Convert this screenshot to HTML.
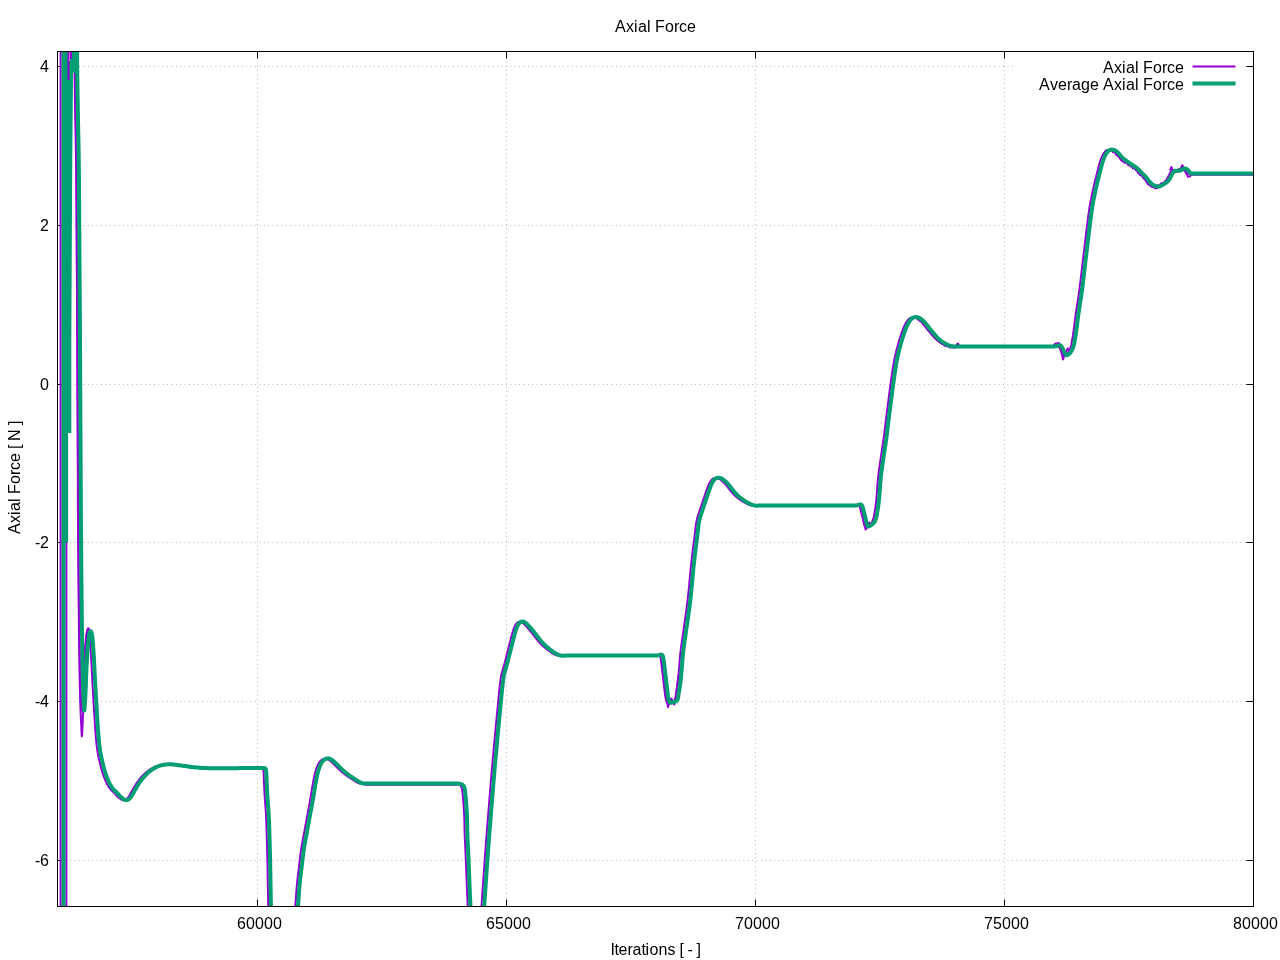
<!DOCTYPE html>
<html lang="en">
<head>
<meta charset="utf-8">
<title>Axial Force</title>
<style>
html,body{margin:0;padding:0;background:#fff;}
body{width:1280px;height:960px;overflow:hidden;font-family:"Liberation Sans",sans-serif;}
svg{display:block;}
</style>
</head>
<body>
<svg width="1280" height="960" viewBox="0 0 1280 960">
<rect width="1280" height="960" fill="#fff"/>
<g stroke="#b4b4b4" stroke-width="1" stroke-dasharray="1 3.4" stroke-dashoffset="0.5" fill="none">
<path d="M257.5,906.5V51.5"/>
<path d="M506.5,906.5V51.5"/>
<path d="M755.5,906.5V51.5"/>
<path d="M1004.5,906.5V51.5"/>
<path d="M57.5,66.5H1253.5"/>
<path d="M57.5,225.5H1253.5"/>
<path d="M57.5,384.5H1253.5"/>
<path d="M57.5,542.5H1253.5"/>
<path d="M57.5,701.5H1253.5"/>
<path d="M57.5,860.5H1253.5"/>
</g>
<rect x="1013" y="58" width="230" height="34" fill="#fff"/>
<g stroke="#000" stroke-width="1" fill="none">
<path d="M257.5,906.5v-7.0M257.5,51.5v7.0"/>
<path d="M506.5,906.5v-7.0M506.5,51.5v7.0"/>
<path d="M755.5,906.5v-7.0M755.5,51.5v7.0"/>
<path d="M1004.5,906.5v-7.0M1004.5,51.5v7.0"/>
<path d="M1253.5,906.5v-7.0M1253.5,51.5v7.0"/>
<path d="M57.5,66.5h7.0M1253.5,66.5h-7.0"/>
<path d="M57.5,225.5h7.0M1253.5,225.5h-7.0"/>
<path d="M57.5,384.5h7.0M1253.5,384.5h-7.0"/>
<path d="M57.5,542.5h7.0M1253.5,542.5h-7.0"/>
<path d="M57.5,701.5h7.0M1253.5,701.5h-7.0"/>
<path d="M57.5,860.5h7.0M1253.5,860.5h-7.0"/>
</g>
<defs><clipPath id="c"><rect x="57.5" y="51.5" width="1196.0" height="855.0"/></clipPath></defs>
<g clip-path="url(#c)" fill="none" stroke-linejoin="round">
<g stroke="#9400d3" stroke-width="2">
<path d="M60.6,910V48"/>
<path d="M66.4,910V541"/>
<path d="M74.30,44.25 L74.33,47.32 L74.36,50.36 L74.38,53.37 L74.41,56.37 L74.43,59.39 L74.46,62.44 L74.49,65.53 L74.52,68.68 L74.56,71.92 L74.60,75.25 L74.65,79.42 L74.71,83.76 L74.78,88.22 L74.85,92.78 L74.92,97.39 L75.00,102.04 L75.07,106.68 L75.15,111.29 L75.22,115.82 L75.30,120.25 L75.37,124.27 L75.45,128.14 L75.53,131.92 L75.61,135.65 L75.69,139.40 L75.76,143.21 L75.84,147.15 L75.91,151.26 L75.98,155.61 L76.05,160.25 L76.14,167.79 L76.22,175.95 L76.29,184.60 L76.35,193.66 L76.41,203.00 L76.47,212.52 L76.53,222.12 L76.58,231.67 L76.64,241.09 L76.70,250.25 L76.76,259.19 L76.82,268.04 L76.89,276.84 L76.95,285.63 L77.01,294.44 L77.07,303.32 L77.13,312.30 L77.19,321.42 L77.24,330.73 L77.30,340.25 L77.36,351.55 L77.42,363.15 L77.48,374.98 L77.54,387.01 L77.59,399.17 L77.65,411.42 L77.71,423.71 L77.77,435.97 L77.83,448.17 L77.90,460.25 L77.97,472.39 L78.04,484.76 L78.11,497.26 L78.19,509.79 L78.26,522.26 L78.34,534.56 L78.42,546.61 L78.51,558.31 L78.60,569.55 L78.70,580.25 L78.78,588.08 L78.86,595.70 L78.94,603.11 L79.02,610.34 L79.11,617.39 L79.20,624.26 L79.29,630.97 L79.39,637.54 L79.49,643.96 L79.60,650.25 L79.69,655.26 L79.77,660.26 L79.85,665.22 L79.94,670.09 L80.03,674.83 L80.12,679.41 L80.23,683.79 L80.34,687.91 L80.46,691.74 L80.60,695.25 L80.69,697.27 L80.78,699.36 L80.87,701.47 L80.97,703.52 L81.07,705.44 L81.18,707.17 L81.28,708.63 L81.39,709.76 L81.49,710.49 L81.60,710.75 L81.71,710.48 L81.82,709.73 L81.93,708.56 L82.04,707.06 L82.15,705.30 L82.26,703.36 L82.38,701.30 L82.49,699.22 L82.59,697.17 L82.70,695.25 L82.85,692.41 L82.99,689.31 L83.12,686.00 L83.25,682.54 L83.38,679.01 L83.51,675.45 L83.64,671.93 L83.79,668.52 L83.94,665.27 L84.10,662.25 L84.23,660.01 L84.37,657.81 L84.50,655.65 L84.64,653.53 L84.79,651.47 L84.94,649.48 L85.09,647.55 L85.25,645.70 L85.42,643.93 L85.60,642.25 L85.72,641.12 L85.83,639.98 L85.94,638.85 L86.06,637.76 L86.17,636.71 L86.30,635.73 L86.45,634.82 L86.61,634.02 L86.79,633.32 L87.00,632.75 L87.10,632.54 L87.20,632.34 L87.32,632.15 L87.43,631.97 L87.55,631.81 L87.66,631.68 L87.78,631.57 L87.89,631.49 L88.00,631.45 L88.10,631.45 L88.25,631.53 L88.38,631.72 L88.51,631.98 L88.64,632.33 L88.76,632.73 L88.87,633.19 L88.98,633.68 L89.09,634.19 L89.20,634.72 L89.30,635.25 L89.51,636.43 L89.69,637.79 L89.86,639.31 L90.01,640.96 L90.15,642.71 L90.28,644.55 L90.41,646.45 L90.54,648.38 L90.67,650.32 L90.80,652.25 L90.97,654.76 L91.13,657.37 L91.28,660.07 L91.42,662.85 L91.56,665.68 L91.70,668.57 L91.85,671.48 L91.99,674.41 L92.14,677.33 L92.30,680.25 L92.48,683.44 L92.67,686.74 L92.86,690.10 L93.06,693.50 L93.25,696.90 L93.45,700.27 L93.65,703.58 L93.84,706.78 L94.02,709.85 L94.20,712.75 L94.33,714.83 L94.44,716.83 L94.55,718.75 L94.66,720.62 L94.77,722.45 L94.88,724.25 L95.00,726.04 L95.12,727.83 L95.25,729.65 L95.40,731.50 L95.56,733.39 L95.72,735.31 L95.88,737.25 L96.05,739.19 L96.23,741.12 L96.42,743.03 L96.62,744.91 L96.83,746.75 L97.06,748.53 L97.30,750.25 L97.51,751.61 L97.73,752.93 L97.96,754.22 L98.20,755.48 L98.45,756.71 L98.70,757.93 L98.97,759.14 L99.24,760.34 L99.52,761.54 L99.80,762.75 L100.08,763.91 L100.36,765.06 L100.65,766.22 L100.94,767.36 L101.24,768.50 L101.55,769.62 L101.87,770.74 L102.20,771.84 L102.55,772.93 L102.90,774.00 L103.24,774.99 L103.59,775.98 L103.95,776.96 L104.32,777.94 L104.70,778.90 L105.09,779.84 L105.48,780.76 L105.88,781.65 L106.29,782.52 L106.70,783.35 L107.05,784.02 L107.40,784.67 L107.75,785.30 L108.11,785.92 L108.48,786.52 L108.85,787.10 L109.22,787.66 L109.61,788.21 L110.00,788.74 L110.40,789.25 L110.76,789.67 L111.12,790.07 L111.50,790.44 L111.87,790.81 L112.26,791.16 L112.64,791.50 L113.03,791.85 L113.42,792.20 L113.81,792.57 L114.20,792.95 L114.62,793.39 L115.04,793.85 L115.46,794.33 L115.88,794.81 L116.31,795.29 L116.73,795.77 L117.17,796.24 L117.62,796.68 L118.08,797.11 L118.55,797.50 L119.02,797.87 L119.51,798.25 L120.01,798.64 L120.52,799.01 L121.04,799.36 L121.56,799.68 L122.07,799.95 L122.58,800.16 L123.07,800.30 L123.55,800.35 L123.95,800.33 L124.34,800.26 L124.72,800.14 L125.10,799.98 L125.48,799.78 L125.85,799.54 L126.22,799.28 L126.58,798.99 L126.94,798.68 L127.30,798.35 L127.83,797.79 L128.35,797.12 L128.85,796.37 L129.35,795.55 L129.85,794.68 L130.34,793.78 L130.82,792.87 L131.31,791.97 L131.80,791.09 L132.30,790.25 L132.79,789.44 L133.28,788.62 L133.76,787.80 L134.24,786.98 L134.73,786.16 L135.22,785.34 L135.71,784.53 L136.23,783.73 L136.75,782.93 L137.30,782.15 L137.87,781.36 L138.46,780.57 L139.07,779.79 L139.68,779.00 L140.31,778.23 L140.95,777.47 L141.59,776.73 L142.24,776.01 L142.89,775.32 L143.55,774.65 L144.15,774.07 L144.75,773.50 L145.35,772.95 L145.96,772.42 L146.57,771.91 L147.19,771.41 L147.83,770.92 L148.47,770.45 L149.13,769.99 L149.80,769.55 L150.50,769.11 L151.20,768.68 L151.92,768.25 L152.64,767.85 L153.38,767.46 L154.13,767.09 L154.90,766.74 L155.68,766.41 L156.48,766.12 L157.30,765.85 L158.22,765.59 L159.16,765.37 L160.13,765.17 L161.11,765.01 L162.11,764.87 L163.13,764.76 L164.16,764.67 L165.20,764.61 L166.25,764.57 L167.30,764.55 L168.49,764.57 L169.69,764.63 L170.91,764.74 L172.14,764.88 L173.39,765.04 L174.65,765.22 L175.92,765.41 L177.21,765.60 L178.50,765.78 L179.80,765.95 L181.24,766.13 L182.69,766.32 L184.15,766.53 L185.62,766.74 L187.11,766.95 L188.61,767.16 L190.13,767.36 L191.67,767.54 L193.22,767.71 L194.80,767.85 L196.57,767.98 L198.36,768.10 L200.17,768.19 L201.99,768.28 L203.84,768.34 L205.72,768.40 L207.63,768.45 L209.56,768.48 L211.54,768.52 L213.55,768.55 L216.01,768.57 L218.57,768.58 L221.21,768.57 L223.90,768.55 L226.62,768.51 L229.34,768.48 L232.04,768.44 L234.70,768.40 L237.30,768.37 L239.80,768.35 L241.92,768.34 L243.99,768.33 L246.03,768.31 L248.03,768.30 L250.02,768.30 L251.99,768.29 L253.95,768.28 L255.92,768.27 L257.90,768.26 L259.90,768.25 L260.11,768.26 L260.33,768.25 L260.56,768.25 L260.78,768.24 L261.00,768.23 L261.22,768.23 L261.43,768.24 L261.63,768.26 L261.82,768.30 L262.00,768.35 L262.13,768.41 L262.26,768.48 L262.37,768.57 L262.48,768.66 L262.59,768.75 L262.69,768.85 L262.79,768.96 L262.89,769.06 L262.99,769.16 L263.10,769.25 L263.15,769.60 L263.20,769.93 L263.26,770.27 L263.31,770.60 L263.37,770.93 L263.42,771.27 L263.47,771.62 L263.52,771.98 L263.56,772.36 L263.60,772.75 L263.64,773.31 L263.68,773.88 L263.71,774.46 L263.73,775.07 L263.74,775.70 L263.76,776.35 L263.78,777.03 L263.80,777.74 L263.82,778.48 L263.85,779.25 L263.91,780.54 L263.96,781.92 L264.03,783.40 L264.10,784.94 L264.17,786.55 L264.25,788.20 L264.33,789.88 L264.41,791.57 L264.50,793.27 L264.60,794.95 L264.72,796.85 L264.85,798.76 L264.99,800.68 L265.14,802.62 L265.29,804.59 L265.44,806.61 L265.59,808.67 L265.74,810.80 L265.88,812.98 L266.00,815.25 L266.15,818.34 L266.29,821.54 L266.41,824.86 L266.53,828.27 L266.64,831.77 L266.75,835.35 L266.85,838.99 L266.95,842.70 L267.05,846.45 L267.15,850.25 L267.27,855.02 L267.38,860.15 L267.49,865.52 L267.59,871.01 L267.69,876.52 L267.78,881.93 L267.87,887.12 L267.95,891.98 L268.03,896.39 L268.10,900.25 L268.14,902.11 L268.17,903.81 L268.20,905.39 L268.23,906.88 L268.26,908.30 L268.29,909.67 L268.31,911.03 L268.34,912.39 L268.37,913.79 L268.40,915.25 M294.50,915.25 L294.58,914.35 L294.66,913.47 L294.73,912.62 L294.81,911.76 L294.89,910.90 L294.96,910.02 L295.04,909.11 L295.13,908.15 L295.21,907.13 L295.30,906.05 L295.44,904.19 L295.59,902.13 L295.75,899.92 L295.91,897.60 L296.07,895.20 L296.25,892.78 L296.42,890.36 L296.61,887.99 L296.80,885.70 L297.00,883.55 L297.18,881.79 L297.37,880.07 L297.56,878.38 L297.76,876.73 L297.97,875.09 L298.18,873.47 L298.38,871.85 L298.59,870.23 L298.80,868.60 L299.00,866.95 L299.20,865.28 L299.38,863.61 L299.57,861.94 L299.75,860.27 L299.94,858.60 L300.13,856.93 L300.33,855.26 L300.54,853.59 L300.76,851.92 L301.00,850.25 L301.26,848.58 L301.54,846.90 L301.83,845.23 L302.13,843.56 L302.44,841.89 L302.75,840.22 L303.07,838.55 L303.38,836.89 L303.70,835.22 L304.00,833.55 L304.30,831.89 L304.60,830.23 L304.90,828.57 L305.20,826.91 L305.49,825.25 L305.79,823.59 L306.09,821.93 L306.39,820.27 L306.70,818.61 L307.00,816.95 L307.31,815.28 L307.62,813.61 L307.93,811.94 L308.25,810.27 L308.56,808.60 L308.88,806.93 L309.19,805.26 L309.50,803.59 L309.80,801.92 L310.10,800.25 L310.39,798.57 L310.68,796.87 L310.96,795.15 L311.23,793.43 L311.51,791.72 L311.78,790.02 L312.06,788.35 L312.33,786.71 L312.61,785.10 L312.90,783.55 L313.14,782.27 L313.37,781.00 L313.60,779.75 L313.83,778.52 L314.06,777.31 L314.30,776.13 L314.55,774.97 L314.81,773.84 L315.10,772.73 L315.40,771.65 L315.67,770.75 L315.95,769.86 L316.24,768.97 L316.53,768.11 L316.84,767.26 L317.16,766.44 L317.49,765.66 L317.83,764.91 L318.18,764.21 L318.55,763.55 L318.83,763.09 L319.12,762.64 L319.41,762.21 L319.70,761.80 L320.01,761.42 L320.32,761.05 L320.64,760.71 L320.98,760.40 L321.33,760.11 L321.70,759.85 L322.06,759.63 L322.44,759.43 L322.83,759.25 L323.24,759.08 L323.66,758.94 L324.07,758.83 L324.49,758.74 L324.90,758.68 L325.31,758.65 L325.70,758.65 L326.06,758.68 L326.42,758.75 L326.78,758.84 L327.13,758.97 L327.48,759.11 L327.83,759.27 L328.18,759.45 L328.52,759.64 L328.86,759.84 L329.20,760.05 L329.58,760.30 L329.96,760.58 L330.33,760.89 L330.69,761.21 L331.06,761.55 L331.42,761.90 L331.78,762.26 L332.15,762.62 L332.52,762.99 L332.90,763.35 L333.33,763.76 L333.76,764.19 L334.20,764.62 L334.64,765.07 L335.08,765.52 L335.52,765.97 L335.97,766.42 L336.41,766.87 L336.86,767.32 L337.30,767.75 L337.74,768.17 L338.17,768.59 L338.61,769.01 L339.05,769.43 L339.49,769.85 L339.93,770.26 L340.37,770.67 L340.81,771.07 L341.25,771.46 L341.70,771.85 L342.13,772.21 L342.55,772.57 L342.98,772.91 L343.41,773.25 L343.84,773.59 L344.27,773.93 L344.71,774.26 L345.15,774.59 L345.60,774.92 L346.05,775.25 L346.53,775.60 L347.02,775.94 L347.51,776.29 L348.01,776.63 L348.52,776.97 L349.02,777.31 L349.53,777.65 L350.04,777.98 L350.55,778.32 L351.05,778.65 L351.55,778.98 L352.07,779.32 L352.59,779.67 L353.11,780.01 L353.63,780.35 L354.15,780.68 L354.65,781.00 L355.14,781.31 L355.61,781.59 L356.05,781.85 L356.36,782.02 L356.66,782.19 L356.95,782.35 L357.23,782.50 L357.51,782.65 L357.78,782.79 L358.05,782.92 L358.30,783.04 L358.56,783.15 L358.80,783.25 L358.97,783.32 L359.14,783.38 L359.31,783.43 L359.47,783.48 L359.62,783.53 L359.78,783.57 L359.93,783.61 L360.09,783.66 L360.24,783.70 L360.40,783.75 L455.30,783.75 L455.50,783.79 L455.70,783.82 L455.89,783.86 L456.09,783.89 L456.29,783.93 L456.49,783.96 L456.69,784.00 L456.89,784.05 L457.09,784.10 L457.30,784.15 L457.54,784.22 L457.80,784.28 L458.06,784.35 L458.32,784.42 L458.59,784.49 L458.85,784.58 L459.10,784.67 L459.35,784.78 L459.58,784.91 L459.80,785.05 L460.01,785.21 L460.21,785.39 L460.40,785.58 L460.59,785.79 L460.76,786.01 L460.93,786.24 L461.09,786.48 L461.23,786.73 L461.37,786.98 L461.50,787.25 L461.64,787.58 L461.75,787.93 L461.85,788.30 L461.93,788.68 L462.00,789.07 L462.06,789.48 L462.12,789.90 L462.17,790.34 L462.23,790.79 L462.30,791.25 L462.40,791.93 L462.48,792.63 L462.57,793.36 L462.65,794.12 L462.72,794.91 L462.80,795.72 L462.87,796.56 L462.95,797.43 L463.02,798.33 L463.10,799.25 L463.21,800.60 L463.33,802.02 L463.45,803.51 L463.57,805.05 L463.69,806.64 L463.81,808.27 L463.92,809.92 L464.02,811.60 L464.12,813.27 L464.20,814.95 L464.28,816.89 L464.35,818.89 L464.40,820.94 L464.44,823.03 L464.48,825.13 L464.51,827.23 L464.55,829.30 L464.59,831.34 L464.64,833.33 L464.70,835.25 L464.76,836.80 L464.82,838.24 L464.88,839.62 L464.95,840.96 L465.01,842.30 L465.08,843.67 L465.16,845.12 L465.23,846.68 L465.32,848.37 L465.40,850.25 L465.59,854.62 L465.81,859.94 L466.06,865.94 L466.32,872.39 L466.59,879.02 L466.85,885.59 L467.11,891.85 L467.34,897.55 L467.54,902.43 L467.70,906.25 L467.75,907.46 L467.80,908.54 L467.84,909.52 L467.88,910.40 L467.92,911.23 L467.95,912.02 L467.99,912.79 L468.02,913.57 L468.06,914.38 L468.10,915.25 M480.90,915.25 L481.00,913.79 L481.09,912.41 L481.18,911.06 L481.26,909.73 L481.35,908.37 L481.45,906.97 L481.54,905.48 L481.65,903.89 L481.77,902.15 L481.90,900.25 L482.21,895.79 L482.57,890.51 L482.98,884.60 L483.43,878.23 L483.89,871.58 L484.37,864.82 L484.85,858.13 L485.31,851.69 L485.75,845.67 L486.15,840.25 L486.42,836.64 L486.69,833.21 L486.95,829.91 L487.20,826.72 L487.45,823.62 L487.70,820.56 L487.95,817.53 L488.19,814.48 L488.44,811.40 L488.70,808.25 L488.96,805.06 L489.22,801.84 L489.48,798.62 L489.74,795.40 L490.00,792.18 L490.26,788.98 L490.52,785.80 L490.78,782.65 L491.04,779.55 L491.30,776.50 L491.53,773.80 L491.75,771.17 L491.97,768.61 L492.19,766.07 L492.41,763.55 L492.64,761.01 L492.86,758.44 L493.10,755.80 L493.34,753.08 L493.60,750.25 L493.93,746.62 L494.27,742.84 L494.63,738.93 L495.00,734.94 L495.37,730.89 L495.75,726.81 L496.14,722.73 L496.52,718.69 L496.91,714.72 L497.30,710.85 L497.66,707.17 L498.03,703.33 L498.41,699.40 L498.79,695.47 L499.16,691.62 L499.54,687.92 L499.92,684.45 L500.30,681.30 L500.68,678.54 L501.05,676.25 L501.20,675.45 L501.35,674.75 L501.50,674.12 L501.65,673.55 L501.79,673.02 L501.94,672.51 L502.10,672.00 L502.26,671.46 L502.42,670.89 L502.60,670.25 L502.84,669.36 L503.10,668.43 L503.37,667.47 L503.65,666.49 L503.94,665.48 L504.24,664.45 L504.53,663.41 L504.82,662.36 L505.11,661.31 L505.40,660.25 L505.71,659.06 L506.03,657.84 L506.34,656.60 L506.66,655.35 L506.97,654.08 L507.29,652.81 L507.60,651.54 L507.92,650.27 L508.23,649.00 L508.55,647.75 L508.86,646.51 L509.18,645.25 L509.49,643.98 L509.80,642.71 L510.11,641.45 L510.43,640.20 L510.74,638.97 L511.06,637.76 L511.38,636.59 L511.70,635.45 L511.97,634.51 L512.23,633.57 L512.50,632.64 L512.76,631.73 L513.02,630.84 L513.30,629.97 L513.58,629.13 L513.87,628.33 L514.18,627.56 L514.50,626.85 L514.75,626.34 L515.01,625.83 L515.27,625.34 L515.54,624.87 L515.82,624.42 L516.10,623.99 L516.39,623.60 L516.68,623.24 L516.99,622.92 L517.30,622.65 L517.53,622.48 L517.77,622.33 L518.02,622.19 L518.27,622.07 L518.53,621.97 L518.78,621.89 L519.04,621.83 L519.29,621.79 L519.55,621.76 L519.80,621.75 L520.05,621.76 L520.30,621.80 L520.55,621.85 L520.80,621.92 L521.05,622.01 L521.30,622.12 L521.55,622.24 L521.80,622.37 L522.05,622.50 L522.30,622.65 L522.61,622.85 L522.92,623.07 L523.22,623.32 L523.53,623.59 L523.83,623.87 L524.14,624.17 L524.45,624.48 L524.76,624.79 L525.08,625.12 L525.40,625.45 L525.82,625.88 L526.25,626.34 L526.68,626.82 L527.13,627.31 L527.58,627.82 L528.02,628.34 L528.47,628.87 L528.92,629.40 L529.36,629.93 L529.80,630.45 L530.25,630.99 L530.69,631.54 L531.13,632.10 L531.57,632.66 L532.01,633.23 L532.45,633.79 L532.89,634.36 L533.32,634.93 L533.76,635.49 L534.20,636.05 L534.63,636.61 L535.07,637.17 L535.50,637.73 L535.93,638.29 L536.36,638.85 L536.79,639.41 L537.23,639.96 L537.66,640.50 L538.10,641.03 L538.55,641.55 L538.97,642.03 L539.40,642.50 L539.83,642.97 L540.26,643.43 L540.70,643.88 L541.13,644.33 L541.57,644.77 L542.01,645.20 L542.45,645.63 L542.90,646.05 L543.33,646.45 L543.76,646.84 L544.20,647.22 L544.64,647.60 L545.08,647.97 L545.52,648.34 L545.96,648.70 L546.41,649.05 L546.85,649.40 L547.30,649.75 L547.73,650.08 L548.17,650.41 L548.60,650.74 L549.04,651.06 L549.48,651.37 L549.92,651.68 L550.36,651.99 L550.81,652.28 L551.25,652.57 L551.70,652.85 L552.13,653.11 L552.57,653.37 L553.01,653.63 L553.46,653.88 L553.90,654.12 L554.34,654.36 L554.78,654.58 L555.21,654.78 L555.64,654.98 L556.05,655.15 L556.38,655.28 L556.70,655.39 L557.02,655.48 L557.34,655.57 L557.65,655.65 L557.96,655.73 L558.27,655.81 L558.58,655.88 L558.89,655.96 L559.20,656.05 L559.59,656.03 L559.93,656.01 L560.26,655.99 L560.58,655.97 L560.92,655.95 L561.28,655.93 L561.68,655.91 L562.14,655.89 L562.67,655.87 L563.30,655.85 L567.56,655.78 L573.78,655.74 L581.63,655.72 L590.76,655.71 L600.81,655.71 L611.44,655.72 L622.30,655.74 L633.05,655.75 L643.33,655.75 L652.80,655.75 L653.10,655.73 L653.40,655.72 L653.71,655.71 L654.01,655.70 L654.31,655.68 L654.61,655.67 L654.91,655.65 L655.21,655.62 L655.51,655.59 L655.80,655.55 L656.08,655.49 L656.37,655.41 L656.66,655.31 L656.94,655.20 L657.23,655.09 L657.50,654.99 L657.77,654.91 L658.03,654.86 L658.27,654.83 L658.50,654.85 L658.67,654.89 L658.83,654.95 L658.99,655.02 L659.14,655.10 L659.28,655.20 L659.42,655.31 L659.55,655.43 L659.67,655.56 L659.79,655.70 L659.90,655.85 L660.03,656.07 L660.14,656.31 L660.24,656.58 L660.31,656.86 L660.38,657.16 L660.44,657.49 L660.50,657.83 L660.56,658.20 L660.63,658.59 L660.70,659.00 L660.86,659.91 L661.02,660.94 L661.17,662.09 L661.33,663.33 L661.49,664.64 L661.65,666.00 L661.81,667.38 L661.97,668.78 L662.14,670.16 L662.30,671.50 L662.49,673.01 L662.67,674.56 L662.87,676.15 L663.06,677.76 L663.25,679.38 L663.44,681.00 L663.64,682.60 L663.83,684.16 L664.01,685.69 L664.20,687.15 L664.35,688.36 L664.48,689.57 L664.61,690.78 L664.74,691.97 L664.86,693.13 L665.00,694.26 L665.15,695.35 L665.31,696.38 L665.49,697.35 L665.70,698.25 L665.84,698.83 L665.98,699.41 L666.12,699.98 L666.26,700.53 L666.41,701.05 L666.58,701.54 L666.76,701.97 L666.98,702.34 L667.22,702.64 L667.50,702.85 L667.76,702.95 L668.06,703.00 L668.37,702.98 L668.70,702.93 L669.05,702.84 L669.40,702.73 L669.76,702.61 L670.12,702.48 L670.46,702.36 L670.80,702.25 L671.15,702.16 L671.51,702.07 L671.88,701.99 L672.24,701.90 L672.61,701.80 L672.96,701.68 L673.30,701.54 L673.63,701.35 L673.93,701.13 L674.20,700.85 L674.56,700.31 L674.86,699.64 L675.11,698.87 L675.31,698.01 L675.48,697.09 L675.62,696.11 L675.76,695.12 L675.89,694.11 L676.03,693.11 L676.20,692.15 L676.40,691.06 L676.60,689.97 L676.79,688.88 L676.97,687.77 L677.15,686.63 L677.32,685.46 L677.49,684.25 L677.66,682.98 L677.83,681.65 L678.00,680.25 L678.25,677.93 L678.50,675.37 L678.73,672.63 L678.96,669.75 L679.19,666.79 L679.42,663.81 L679.65,660.87 L679.89,658.00 L680.14,655.28 L680.40,652.75 L680.61,650.92 L680.82,649.20 L681.04,647.57 L681.25,645.99 L681.47,644.43 L681.70,642.86 L681.93,641.25 L682.18,639.56 L682.43,637.77 L682.70,635.85 L683.12,632.83 L683.58,629.59 L684.07,626.17 L684.59,622.60 L685.11,618.93 L685.64,615.19 L686.17,611.42 L686.67,607.64 L687.15,603.91 L687.60,600.25 L688.02,596.51 L688.42,592.71 L688.80,588.87 L689.17,585.00 L689.53,581.15 L689.87,577.32 L690.22,573.54 L690.57,569.84 L690.93,566.23 L691.30,562.75 L691.62,559.91 L691.94,557.10 L692.27,554.33 L692.60,551.61 L692.92,548.94 L693.25,546.32 L693.57,543.76 L693.89,541.27 L694.20,538.85 L694.50,536.50 L694.72,534.70 L694.93,532.93 L695.12,531.21 L695.31,529.52 L695.50,527.87 L695.70,526.26 L695.91,524.70 L696.15,523.17 L696.41,521.69 L696.70,520.25 L696.96,519.15 L697.24,518.09 L697.53,517.07 L697.83,516.09 L698.15,515.12 L698.47,514.16 L698.80,513.21 L699.13,512.24 L699.47,511.26 L699.80,510.25 L700.16,509.15 L700.52,508.02 L700.90,506.89 L701.28,505.74 L701.66,504.59 L702.05,503.45 L702.43,502.31 L702.81,501.19 L703.18,500.08 L703.55,499.00 L703.87,498.03 L704.19,497.07 L704.51,496.11 L704.82,495.16 L705.13,494.22 L705.45,493.30 L705.76,492.39 L706.07,491.49 L706.38,490.61 L706.70,489.75 L706.97,489.01 L707.24,488.28 L707.51,487.55 L707.78,486.83 L708.05,486.13 L708.32,485.44 L708.60,484.78 L708.89,484.14 L709.19,483.53 L709.50,482.95 L709.76,482.51 L710.01,482.08 L710.27,481.66 L710.54,481.25 L710.81,480.86 L711.09,480.49 L711.38,480.14 L711.67,479.82 L711.98,479.52 L712.30,479.25 L712.58,479.04 L712.88,478.85 L713.18,478.67 L713.49,478.51 L713.80,478.37 L714.12,478.24 L714.44,478.14 L714.76,478.05 L715.08,477.99 L715.40,477.95 L715.71,477.93 L716.02,477.94 L716.34,477.97 L716.65,478.02 L716.97,478.09 L717.28,478.18 L717.60,478.28 L717.92,478.39 L718.23,478.52 L718.55,478.65 L718.93,478.83 L719.30,479.03 L719.68,479.25 L720.05,479.49 L720.43,479.75 L720.80,480.03 L721.18,480.32 L721.55,480.62 L721.93,480.93 L722.30,481.25 L722.74,481.65 L723.19,482.07 L723.63,482.51 L724.08,482.98 L724.52,483.45 L724.96,483.94 L725.40,484.44 L725.84,484.94 L726.27,485.45 L726.70,485.95 L727.14,486.48 L727.58,487.03 L728.02,487.59 L728.45,488.16 L728.88,488.73 L729.31,489.30 L729.74,489.86 L730.17,490.42 L730.61,490.97 L731.05,491.50 L731.47,491.99 L731.90,492.48 L732.33,492.97 L732.76,493.45 L733.19,493.92 L733.63,494.39 L734.06,494.84 L734.50,495.29 L734.95,495.73 L735.40,496.15 L735.83,496.54 L736.26,496.91 L736.69,497.28 L737.13,497.64 L737.57,497.99 L738.01,498.33 L738.46,498.67 L738.90,499.00 L739.35,499.33 L739.80,499.65 L740.23,499.96 L740.67,500.25 L741.11,500.55 L741.54,500.84 L741.98,501.12 L742.43,501.40 L742.87,501.67 L743.31,501.93 L743.76,502.19 L744.20,502.45 L744.63,502.69 L745.06,502.94 L745.49,503.18 L745.92,503.41 L746.36,503.64 L746.79,503.86 L747.23,504.08 L747.67,504.28 L748.11,504.47 L748.55,504.65 L748.98,504.81 L749.41,504.97 L749.84,505.12 L750.27,505.26 L750.71,505.39 L751.14,505.51 L751.58,505.61 L752.02,505.71 L752.46,505.79 L752.90,505.85 L753.34,505.89 L753.77,505.91 L754.21,505.91 L754.65,505.90 L755.09,505.88 L755.54,505.85 L755.98,505.82 L756.42,505.79 L756.86,505.77 L757.30,505.75 L851.05,505.75 L851.37,505.73 L851.70,505.72 L852.02,505.71 L852.34,505.70 L852.67,505.69 L852.99,505.67 L853.32,505.66 L853.64,505.63 L853.97,505.60 L854.30,505.55 L854.67,505.48 L855.05,505.37 L855.44,505.25 L855.84,505.12 L856.24,504.99 L856.62,504.86 L856.99,504.76 L857.33,504.68 L857.63,504.64 L857.90,504.65 L858.03,504.67 L858.15,504.71 L858.26,504.75 L858.37,504.80 L858.46,504.86 L858.55,504.92 L858.64,505.00 L858.73,505.07 L858.81,505.16 L858.90,505.25 L859.01,505.38 L859.11,505.52 L859.21,505.68 L859.30,505.85 L859.39,506.03 L859.47,506.22 L859.55,506.41 L859.63,506.62 L859.72,506.83 L859.80,507.05 L859.92,507.38 L860.03,507.72 L860.14,508.08 L860.24,508.46 L860.35,508.86 L860.45,509.27 L860.56,509.70 L860.67,510.14 L860.78,510.59 L860.90,511.05 L861.08,511.74 L861.27,512.48 L861.47,513.27 L861.67,514.08 L861.88,514.91 L862.09,515.76 L862.30,516.60 L862.50,517.43 L862.71,518.23 L862.90,519.00 L863.06,519.68 L863.22,520.37 L863.38,521.07 L863.53,521.77 L863.69,522.45 L863.84,523.11 L864.00,523.73 L864.16,524.30 L864.33,524.81 L864.50,525.25 L864.59,525.46 L864.68,525.66 L864.76,525.86 L864.84,526.04 L864.93,526.21 L865.02,526.37 L865.12,526.50 L865.23,526.61 L865.36,526.69 L865.50,526.75 L865.72,526.77 L865.97,526.73 L866.24,526.65 L866.54,526.52 L866.84,526.35 L867.16,526.17 L867.48,525.96 L867.80,525.75 L868.11,525.55 L868.40,525.35 L868.73,525.13 L869.07,524.90 L869.41,524.65 L869.75,524.40 L870.09,524.13 L870.42,523.85 L870.74,523.55 L871.05,523.23 L871.34,522.90 L871.60,522.55 L871.87,522.13 L872.12,521.67 L872.35,521.19 L872.57,520.69 L872.76,520.17 L872.95,519.64 L873.12,519.10 L873.28,518.55 L873.44,518.00 L873.60,517.45 L873.76,516.85 L873.91,516.24 L874.04,515.62 L874.16,514.99 L874.27,514.35 L874.38,513.70 L874.48,513.05 L874.59,512.39 L874.69,511.72 L874.80,511.05 L874.92,510.29 L875.05,509.53 L875.17,508.74 L875.29,507.95 L875.41,507.15 L875.53,506.35 L875.64,505.55 L875.75,504.75 L875.85,503.94 L875.95,503.15 L876.04,502.38 L876.12,501.63 L876.20,500.89 L876.27,500.15 L876.34,499.41 L876.41,498.65 L876.47,497.87 L876.55,497.05 L876.62,496.18 L876.70,495.25 L876.83,493.70 L876.96,492.01 L877.09,490.20 L877.22,488.31 L877.36,486.35 L877.51,484.36 L877.66,482.35 L877.83,480.36 L878.01,478.40 L878.20,476.50 L878.41,474.66 L878.63,472.83 L878.87,471.00 L879.12,469.17 L879.37,467.35 L879.64,465.53 L879.90,463.70 L880.17,461.89 L880.44,460.07 L880.70,458.25 L880.96,456.46 L881.23,454.68 L881.50,452.92 L881.77,451.17 L882.04,449.41 L882.32,447.63 L882.59,445.84 L882.86,444.02 L883.13,442.16 L883.40,440.25 L883.71,437.96 L884.01,435.56 L884.32,433.09 L884.63,430.57 L884.93,428.04 L885.23,425.52 L885.52,423.06 L885.81,420.67 L886.08,418.39 L886.35,416.25 L886.54,414.75 L886.72,413.33 L886.90,411.98 L887.07,410.66 L887.23,409.38 L887.40,408.10 L887.57,406.82 L887.74,405.51 L887.92,404.16 L888.10,402.75 L888.32,401.07 L888.53,399.36 L888.75,397.63 L888.98,395.87 L889.20,394.08 L889.44,392.27 L889.68,390.43 L889.92,388.57 L890.18,386.67 L890.45,384.75 L890.78,382.42 L891.12,379.97 L891.48,377.43 L891.85,374.85 L892.22,372.25 L892.61,369.67 L893.00,367.15 L893.40,364.71 L893.80,362.40 L894.20,360.25 L894.50,358.76 L894.80,357.34 L895.10,355.97 L895.40,354.64 L895.71,353.35 L896.02,352.08 L896.34,350.84 L896.65,349.61 L896.98,348.38 L897.30,347.15 L897.60,346.03 L897.90,344.93 L898.20,343.83 L898.50,342.75 L898.81,341.68 L899.12,340.62 L899.44,339.57 L899.75,338.54 L900.07,337.51 L900.40,336.50 L900.70,335.58 L901.00,334.66 L901.31,333.75 L901.61,332.85 L901.92,331.95 L902.24,331.08 L902.55,330.21 L902.88,329.37 L903.21,328.55 L903.55,327.75 L903.85,327.08 L904.14,326.41 L904.44,325.76 L904.75,325.11 L905.06,324.48 L905.37,323.87 L905.69,323.28 L906.02,322.71 L906.35,322.17 L906.70,321.65 L906.99,321.24 L907.28,320.84 L907.57,320.44 L907.87,320.07 L908.18,319.70 L908.49,319.36 L908.81,319.04 L909.13,318.75 L909.46,318.48 L909.80,318.25 L910.09,318.08 L910.39,317.93 L910.69,317.80 L911.00,317.69 L911.32,317.59 L911.63,317.52 L911.95,317.45 L912.27,317.41 L912.59,317.37 L912.90,317.35 L913.21,317.34 L913.53,317.35 L913.84,317.38 L914.16,317.42 L914.47,317.47 L914.79,317.54 L915.10,317.62 L915.42,317.72 L915.73,317.83 L916.05,317.95 L916.42,318.12 L916.80,318.30 L917.18,318.51 L917.55,318.75 L917.93,318.99 L918.31,319.26 L918.68,319.54 L919.05,319.83 L919.43,320.14 L919.80,320.45 L920.25,320.85 L920.69,321.28 L921.14,321.73 L921.58,322.20 L922.02,322.69 L922.46,323.20 L922.90,323.71 L923.34,324.22 L923.77,324.74 L924.20,325.25 L924.64,325.79 L925.08,326.34 L925.52,326.90 L925.95,327.47 L926.38,328.04 L926.81,328.61 L927.24,329.18 L927.67,329.75 L928.11,330.30 L928.55,330.85 L928.98,331.37 L929.41,331.88 L929.84,332.39 L930.27,332.90 L930.70,333.40 L931.14,333.90 L931.58,334.40 L932.02,334.89 L932.46,335.37 L932.90,335.85 L933.33,336.31 L933.76,336.78 L934.20,337.24 L934.63,337.69 L935.07,338.15 L935.51,338.59 L935.95,339.03 L936.40,339.45 L936.85,339.86 L937.30,340.25 L937.73,340.60 L938.16,340.94 L938.59,341.28 L939.03,341.60 L939.47,341.91 L939.91,342.21 L940.36,342.51 L940.80,342.80 L941.25,343.08 L941.70,343.35 L942.13,343.60 L942.56,343.85 L942.99,344.10 L943.42,344.33 L943.85,344.56 L944.29,344.78 L944.73,344.99 L945.17,345.19 L945.61,345.38 L946.05,345.55 L946.48,345.70 L946.90,345.85 L947.33,345.98 L947.76,346.10 L948.19,346.22 L948.62,346.32 L949.06,346.42 L949.50,346.50 L949.95,346.58 L950.40,346.65 L950.88,346.71 L951.37,346.75 L951.87,346.78 L952.37,346.80 L952.87,346.81 L953.38,346.82 L953.89,346.82 L954.39,346.83 L954.90,346.83 L955.40,346.85 L955.77,346.84 L956.10,346.83 L956.41,346.82 L956.71,346.81 L957.03,346.80 L957.37,346.79 L957.75,346.78 L958.19,346.77 L958.70,346.76 L959.30,346.75 L963.59,346.72 L969.94,346.70 L977.98,346.69 L987.35,346.69 L997.69,346.70 L1008.63,346.71 L1019.82,346.72 L1030.88,346.74 L1041.47,346.75 L1051.20,346.75 L1051.51,346.70 L1051.82,346.66 L1052.14,346.61 L1052.45,346.57 L1052.76,346.52 L1053.07,346.47 L1053.38,346.42 L1053.69,346.37 L1054.00,346.31 L1054.30,346.25 L1054.59,346.17 L1054.89,346.07 L1055.19,345.96 L1055.49,345.84 L1055.78,345.72 L1056.07,345.61 L1056.35,345.53 L1056.61,345.46 L1056.87,345.44 L1057.10,345.45 L1057.27,345.49 L1057.43,345.55 L1057.57,345.63 L1057.72,345.72 L1057.85,345.82 L1057.99,345.94 L1058.12,346.06 L1058.24,346.19 L1058.37,346.32 L1058.50,346.45 L1058.65,346.61 L1058.80,346.78 L1058.94,346.96 L1059.08,347.14 L1059.22,347.34 L1059.36,347.54 L1059.49,347.75 L1059.63,347.98 L1059.76,348.21 L1059.90,348.45 L1060.09,348.82 L1060.28,349.23 L1060.46,349.68 L1060.64,350.14 L1060.82,350.62 L1061.00,351.10 L1061.19,351.57 L1061.38,352.03 L1061.59,352.46 L1061.80,352.85 L1061.98,353.17 L1062.16,353.50 L1062.34,353.83 L1062.53,354.16 L1062.72,354.47 L1062.92,354.75 L1063.12,355.00 L1063.34,355.21 L1063.56,355.36 L1063.80,355.45 L1064.05,355.47 L1064.31,355.44 L1064.59,355.35 L1064.88,355.23 L1065.18,355.07 L1065.47,354.88 L1065.77,354.67 L1066.06,354.45 L1066.34,354.23 L1066.60,354.00 L1066.92,353.70 L1067.23,353.37 L1067.53,353.00 L1067.83,352.61 L1068.12,352.19 L1068.40,351.77 L1068.67,351.33 L1068.93,350.90 L1069.17,350.47 L1069.40,350.05 L1069.60,349.67 L1069.79,349.28 L1069.96,348.90 L1070.12,348.51 L1070.27,348.12 L1070.42,347.73 L1070.56,347.32 L1070.69,346.91 L1070.82,346.49 L1070.95,346.05 L1071.10,345.51 L1071.23,344.95 L1071.35,344.37 L1071.47,343.78 L1071.58,343.18 L1071.69,342.57 L1071.79,341.96 L1071.89,341.35 L1071.99,340.75 L1072.10,340.15 L1072.20,339.58 L1072.30,339.03 L1072.40,338.51 L1072.49,337.98 L1072.59,337.45 L1072.68,336.89 L1072.78,336.31 L1072.88,335.68 L1072.99,335.00 L1073.10,334.25 L1073.35,332.53 L1073.62,330.54 L1073.91,328.32 L1074.22,325.94 L1074.54,323.43 L1074.87,320.85 L1075.21,318.25 L1075.54,315.68 L1075.87,313.20 L1076.20,310.85 L1076.50,308.76 L1076.81,306.74 L1077.11,304.77 L1077.42,302.81 L1077.73,300.85 L1078.04,298.87 L1078.35,296.84 L1078.66,294.74 L1078.98,292.55 L1079.30,290.25 L1079.74,286.93 L1080.18,283.40 L1080.64,279.69 L1081.10,275.86 L1081.56,271.94 L1082.02,267.99 L1082.48,264.05 L1082.93,260.16 L1083.37,256.38 L1083.80,252.75 L1084.18,249.57 L1084.55,246.39 L1084.93,243.22 L1085.30,240.08 L1085.66,236.98 L1086.02,233.95 L1086.38,230.99 L1086.72,228.13 L1087.07,225.37 L1087.40,222.75 L1087.64,220.89 L1087.88,219.08 L1088.10,217.33 L1088.33,215.63 L1088.55,213.98 L1088.77,212.37 L1089.00,210.80 L1089.23,209.25 L1089.46,207.74 L1089.70,206.25 L1089.90,205.06 L1090.10,203.91 L1090.30,202.79 L1090.51,201.69 L1090.72,200.61 L1090.92,199.55 L1091.14,198.48 L1091.35,197.42 L1091.57,196.34 L1091.80,195.25 L1092.03,194.13 L1092.27,193.01 L1092.51,191.90 L1092.75,190.78 L1093.00,189.67 L1093.25,188.54 L1093.51,187.42 L1093.77,186.29 L1094.03,185.15 L1094.30,184.00 L1094.59,182.77 L1094.89,181.53 L1095.19,180.27 L1095.50,179.01 L1095.81,177.74 L1096.12,176.48 L1096.44,175.22 L1096.76,173.96 L1097.08,172.72 L1097.40,171.50 L1097.70,170.34 L1098.00,169.16 L1098.30,167.98 L1098.60,166.81 L1098.91,165.64 L1099.22,164.50 L1099.54,163.38 L1099.86,162.29 L1100.20,161.25 L1100.55,160.25 L1100.84,159.48 L1101.13,158.71 L1101.42,157.96 L1101.72,157.23 L1102.02,156.52 L1102.34,155.84 L1102.66,155.19 L1102.99,154.57 L1103.34,153.99 L1103.70,153.45 L1103.98,153.06 L1104.27,152.69 L1104.57,152.33 L1104.87,151.99 L1105.18,151.67 L1105.49,151.37 L1105.81,151.10 L1106.13,150.85 L1106.46,150.64 L1106.80,150.45 L1107.09,150.32 L1107.39,150.20 L1107.70,150.11 L1108.01,150.04 L1108.33,149.99 L1108.64,149.95 L1108.96,149.93 L1109.28,149.92 L1109.59,149.93 L1109.90,149.95 L1110.22,149.99 L1110.54,150.04 L1110.86,150.12 L1111.18,150.20 L1111.50,150.31 L1111.82,150.43 L1112.13,150.57 L1112.44,150.71 L1112.75,150.88 L1113.05,151.05 L1113.38,151.27 L1113.71,151.51 L1114.02,151.78 L1114.34,152.07 L1114.65,152.37 L1114.95,152.69 L1115.26,153.01 L1115.57,153.34 L1115.88,153.67 L1116.20,154.00 L1116.56,154.38 L1116.92,154.77 L1117.28,155.18 L1117.64,155.59 L1118.00,156.02 L1118.37,156.44 L1118.74,156.86 L1119.12,157.27 L1119.50,157.67 L1119.90,158.05 L1120.31,158.42 L1120.73,158.78 L1121.16,159.14 L1121.59,159.48 L1122.03,159.82 L1122.48,160.16 L1122.93,160.50 L1123.38,160.83 L1123.84,161.16 L1124.30,161.50 L1124.78,161.85 L1125.27,162.20 L1125.77,162.55 L1126.27,162.89 L1126.77,163.24 L1127.28,163.58 L1127.79,163.92 L1128.29,164.27 L1128.80,164.61 L1129.30,164.95 L1129.80,165.29 L1130.31,165.62 L1130.82,165.94 L1131.33,166.27 L1131.84,166.59 L1132.35,166.93 L1132.85,167.26 L1133.34,167.61 L1133.83,167.97 L1134.30,168.35 L1134.77,168.75 L1135.22,169.17 L1135.67,169.60 L1136.11,170.04 L1136.54,170.49 L1136.98,170.94 L1137.40,171.40 L1137.83,171.85 L1138.26,172.31 L1138.70,172.75 L1139.14,173.19 L1139.58,173.62 L1140.03,174.06 L1140.47,174.49 L1140.91,174.93 L1141.35,175.36 L1141.79,175.80 L1142.22,176.25 L1142.64,176.69 L1143.05,177.15 L1143.45,177.61 L1143.84,178.09 L1144.22,178.57 L1144.59,179.06 L1144.96,179.56 L1145.33,180.04 L1145.70,180.52 L1146.06,180.98 L1146.43,181.43 L1146.80,181.85 L1147.11,182.19 L1147.42,182.53 L1147.72,182.86 L1148.02,183.19 L1148.33,183.50 L1148.63,183.80 L1148.94,184.09 L1149.25,184.36 L1149.57,184.62 L1149.90,184.85 L1150.20,185.04 L1150.51,185.22 L1150.81,185.38 L1151.13,185.54 L1151.45,185.68 L1151.76,185.81 L1152.09,185.93 L1152.41,186.04 L1152.73,186.15 L1153.05,186.25 L1153.36,186.35 L1153.67,186.45 L1153.99,186.55 L1154.30,186.64 L1154.62,186.72 L1154.93,186.79 L1155.25,186.84 L1155.57,186.87 L1155.88,186.87 L1156.20,186.85 L1156.55,186.79 L1156.89,186.69 L1157.24,186.57 L1157.59,186.41 L1157.94,186.24 L1158.28,186.06 L1158.64,185.86 L1158.99,185.65 L1159.34,185.45 L1159.70,185.25 L1160.12,185.02 L1160.54,184.78 L1160.98,184.53 L1161.41,184.28 L1161.85,184.01 L1162.29,183.73 L1162.71,183.45 L1163.12,183.16 L1163.52,182.86 L1163.90,182.55 L1164.24,182.25 L1164.57,181.95 L1164.89,181.64 L1165.20,181.33 L1165.51,181.00 L1165.80,180.67 L1166.08,180.33 L1166.36,179.98 L1166.63,179.62 L1166.90,179.25 L1167.18,178.83 L1167.44,178.38 L1167.69,177.92 L1167.93,177.44 L1168.16,176.96 L1168.39,176.47 L1168.62,175.99 L1168.84,175.52 L1169.07,175.08 L1169.30,174.65 L1169.49,174.30 L1169.67,173.94 L1169.84,173.59 L1170.02,173.24 L1170.19,172.89 L1170.37,172.57 L1170.55,172.27 L1170.75,171.99 L1170.97,171.75 L1171.20,171.55 L1171.40,171.42 L1171.61,171.31 L1171.83,171.23 L1172.06,171.16 L1172.29,171.11 L1172.53,171.07 L1172.78,171.04 L1173.03,171.01 L1173.29,170.98 L1173.55,170.95 L1173.89,170.92 L1174.25,170.91 L1174.62,170.92 L1175.00,170.94 L1175.39,170.96 L1175.79,170.97 L1176.18,170.98 L1176.56,170.96 L1176.94,170.92 L1177.30,170.85 L1177.65,170.74 L1177.99,170.59 L1178.32,170.41 L1178.66,170.21 L1178.98,170.00 L1179.31,169.79 L1179.63,169.59 L1179.95,169.41 L1180.28,169.26 L1180.60,169.15 L1180.89,169.07 L1181.17,169.00 L1181.46,168.94 L1181.75,168.89 L1182.04,168.85 L1182.32,168.83 L1182.60,168.82 L1182.88,168.84 L1183.14,168.88 L1183.40,168.95 L1183.65,169.05 L1183.90,169.18 L1184.14,169.34 L1184.37,169.53 L1184.60,169.73 L1184.82,169.94 L1185.04,170.17 L1185.26,170.39 L1185.48,170.62 L1185.70,170.85 L1185.95,171.11 L1186.19,171.38 L1186.43,171.66 L1186.67,171.95 L1186.91,172.25 L1187.15,172.55 L1187.39,172.85 L1187.62,173.16 L1187.86,173.46 L1188.10,173.75 L1250.80,173.75"/>
<path d="M75.20,44.00 L75.24,49.59 L75.27,55.17 L75.31,60.74 L75.34,66.31 L75.38,71.88 L75.41,77.46 L75.45,83.06 L75.50,88.68 L75.55,94.32 L75.60,100.00 L75.67,105.86 L75.74,111.67 L75.82,117.47 L75.91,123.27 L76.00,129.11 L76.09,135.03 L76.17,141.04 L76.26,147.19 L76.33,153.50 L76.40,160.00 L76.47,168.26 L76.54,176.84 L76.59,185.66 L76.64,194.69 L76.69,203.86 L76.73,213.13 L76.77,222.43 L76.81,231.71 L76.86,240.92 L76.90,250.00 L76.94,258.94 L76.99,267.79 L77.03,276.59 L77.07,285.38 L77.10,294.19 L77.14,303.07 L77.18,312.05 L77.22,321.17 L77.26,330.48 L77.30,340.00 L77.35,351.53 L77.40,363.72 L77.46,376.36 L77.52,389.24 L77.57,402.15 L77.63,414.90 L77.68,427.26 L77.73,439.03 L77.77,450.02 L77.80,460.00 L77.82,465.83 L77.83,471.24 L77.83,476.32 L77.83,481.15 L77.84,485.82 L77.84,490.43 L77.85,495.06 L77.86,499.81 L77.88,504.76 L77.90,510.00 L77.94,516.52 L77.98,523.25 L78.04,530.14 L78.10,537.15 L78.16,544.27 L78.23,551.44 L78.30,558.63 L78.37,565.81 L78.43,572.95 L78.50,580.00 L78.56,587.05 L78.63,594.19 L78.69,601.37 L78.75,608.56 L78.81,615.73 L78.88,622.85 L78.95,629.86 L79.02,636.75 L79.11,643.48 L79.20,650.00 L79.28,655.42 L79.37,660.81 L79.46,666.16 L79.55,671.43 L79.65,676.60 L79.75,681.64 L79.85,686.53 L79.96,691.23 L80.08,695.73 L80.20,700.00 L80.29,702.89 L80.38,705.71 L80.48,708.44 L80.58,711.09 L80.68,713.65 L80.78,716.12 L80.89,718.49 L80.99,720.77 L81.10,722.94 L81.20,725.00 L81.27,726.41 L81.34,727.91 L81.41,729.43 L81.48,730.92 L81.55,732.34 L81.62,733.62 L81.69,734.71 L81.76,735.56 L81.83,736.11 L81.90,736.30 L81.98,736.05 L82.06,735.36 L82.14,734.29 L82.22,732.91 L82.30,731.29 L82.38,729.50 L82.46,727.61 L82.54,725.68 L82.62,723.79 L82.70,722.00 L82.83,719.32 L82.95,716.44 L83.08,713.38 L83.21,710.19 L83.35,706.88 L83.48,703.51 L83.61,700.11 L83.74,696.70 L83.87,693.32 L84.00,690.00 L84.13,686.52 L84.26,682.93 L84.38,679.28 L84.51,675.60 L84.63,671.93 L84.76,668.31 L84.88,664.77 L85.02,661.35 L85.15,658.08 L85.30,655.00 L85.41,652.82 L85.51,650.68 L85.62,648.58 L85.73,646.54 L85.84,644.55 L85.96,642.65 L86.08,640.83 L86.21,639.11 L86.35,637.50 L86.50,636.00 L86.59,635.13 L86.68,634.26 L86.77,633.42 L86.86,632.61 L86.95,631.84 L87.05,631.12 L87.17,630.47 L87.29,629.89 L87.44,629.40 L87.60,629.00 L87.67,628.87 L87.75,628.74 L87.83,628.62 L87.91,628.51 L87.99,628.41 L88.08,628.33 L88.16,628.26 L88.24,628.22 L88.32,628.20 L88.40,628.20 L88.52,628.26 L88.64,628.40 L88.76,628.59 L88.87,628.84 L88.98,629.14 L89.09,629.47 L89.20,629.83 L89.30,630.21 L89.40,630.60 L89.50,631.00 L89.70,631.96 L89.88,633.10 L90.04,634.40 L90.19,635.82 L90.33,637.32 L90.46,638.88 L90.59,640.46 L90.72,642.03 L90.86,643.55 L91.00,645.00"/>
<path d="M1095.90,178.26 L1096.21,176.55 L1096.52,176.28 L1096.84,174.19 L1097.16,172.64 L1097.48,172.54 L1097.80,173.07 L1098.10,171.51 L1098.40,170.21 L1098.70,167.19 L1099.00,167.08 L1099.31,165.03 L1099.62,163.54 L1099.94,162.19 L1100.26,161.47 L1100.60,162.85 L1100.95,161.52 L1101.24,160.67 L1101.53,159.88 L1101.82,157.07 L1102.12,156.74 L1102.42,157.11 L1102.74,156.78 L1103.06,156.55 L1103.39,156.01 L1103.74,152.73 L1104.10,153.96 L1104.38,153.80 L1104.67,152.86 L1104.97,151.39 L1105.27,152.05 L1105.58,150.42 L1105.89,153.00 L1106.21,152.49 L1106.53,151.17 L1106.86,150.11 L1107.20,151.99 L1107.49,150.71 L1107.79,151.65 L1108.10,151.45 L1108.41,150.22 L1108.73,149.84 L1109.04,150.43 L1109.36,149.84 L1109.68,148.92 L1109.99,149.42 L1110.30,151.16 L1110.62,148.58 L1110.94,148.65 L1111.26,150.70 L1111.58,149.61 L1111.90,150.58 L1112.22,150.48 L1112.53,150.18 L1112.84,152.56 L1113.15,149.99 L1113.45,150.90 L1113.78,150.41 L1114.11,152.12 L1114.42,151.17 L1114.74,151.73 L1115.05,153.36 L1115.35,152.23 L1115.66,153.36 L1115.97,154.87 L1116.28,152.47 L1116.60,152.66 L1116.96,153.60 L1117.32,155.82 L1117.68,155.72 L1118.04,154.85 L1118.40,155.59 L1118.77,155.49 L1119.14,156.87 L1119.52,155.86 L1119.90,158.49 L1120.30,159.55 L1120.71,160.12 L1121.13,159.73 L1121.56,160.85 L1121.99,157.99 L1122.43,159.26 L1122.88,161.90 L1123.33,161.58 L1123.78,160.67 L1124.24,162.82 L1124.70,162.06 L1125.18,163.08 L1125.67,161.65 L1126.17,161.65 L1126.67,162.85 L1127.17,162.15 L1127.68,163.33 L1128.19,165.64 L1128.69,163.84 L1129.20,163.09 L1129.70,163.55 L1130.20,164.31 L1130.71,166.73 L1131.22,165.63 L1131.73,165.71 L1132.24,165.37 L1132.75,168.71 L1133.25,167.15 L1133.74,166.77 L1134.23,166.62 L1134.70,166.99 L1135.17,167.77 L1135.62,169.92 L1136.07,168.56 L1136.51,168.63 L1136.94,170.61 L1137.38,170.24 L1137.80,173.24 L1138.23,170.72 L1138.66,172.55 L1139.10,173.83 L1139.54,173.03 L1139.98,175.43 L1140.43,174.13 L1140.87,173.76 L1141.31,174.77 L1141.75,173.94 L1142.19,175.68 L1142.62,175.54 L1143.04,178.17 L1143.45,178.43 L1143.85,177.76 L1144.24,176.64 L1144.62,177.89 L1144.99,178.34 L1145.36,178.71 L1145.73,179.28 L1146.10,181.93 L1146.46,179.92 L1146.83,180.05 L1147.20,183.46 L1147.51,182.57 L1147.82,184.35 L1148.12,182.68 L1148.42,184.70 L1148.73,184.17 L1149.03,184.94 L1149.34,185.07 L1149.65,184.49 L1149.97,183.38 L1150.30,184.02 L1150.60,186.46 L1150.91,186.73 L1151.21,186.98 L1151.53,185.13 L1151.85,186.36 L1152.16,186.97 L1152.49,186.56 L1152.81,187.26 L1153.13,186.39 L1153.45,186.93 L1153.76,187.13 L1154.07,185.81 L1154.39,188.13 L1154.70,188.34 L1155.02,185.42 L1155.33,188.54 L1155.65,188.56 L1155.97,187.59 L1156.28,185.47 L1156.60,188.36 L1156.95,185.67 L1157.29,188.44 L1157.64,187.28 L1157.99,185.07 L1158.34,185.26 L1158.68,186.66 L1159.04,186.24 L1159.39,186.64 L1159.74,187.05 L1160.10,184.44 L1160.52,183.48 L1160.94,186.37 L1161.38,183.03 L1161.81,185.71 L1162.25,182.85 L1162.69,184.94 L1163.11,184.56 L1163.52,184.59 L1163.92,183.18 L1164.30,183.99 L1164.64,181.39 L1164.97,182.68 L1165.29,181.22 L1165.60,182.81 L1165.91,182.08 L1166.20,180.72 L1166.48,180.57 L1166.76,178.52 L1167.03,178.19 L1167.30,179.72 L1167.58,178.94 L1167.84,179.77 L1168.09,178.44 L1168.33,176.36 L1168.56,176.64 L1168.79,177.53 L1169.02,176.22 L1169.24,174.01 L1169.47,176.37 L1169.70,175.91 L1169.89,173.04 L1170.07,174.24 L1170.24,173.33 L1170.42,174.36 L1170.59,172.40 L1170.77,171.81 L1170.95,172.37 L1171.15,173.73 L1171.37,170.52 L1171.60,170.39 L1171.80,171.98 L1172.01,172.77 L1172.23,171.42 L1172.46,171.09 L1172.69,172.48 L1172.93,172.16 L1173.18,169.72 L1173.43,172.46 L1173.69,170.10 L1173.95,170.43 L1174.29,172.21 L1174.65,170.80 L1175.02,172.08 L1175.40,169.95 L1175.79,172.38 L1176.19,170.02 L1176.58,169.93 L1176.96,171.09 L1177.34,170.52 L1177.70,171.14 L1178.05,172.26 L1178.39,171.45 L1178.72,168.88 L1179.06,169.72 L1179.38,170.30 L1179.71,169.90 L1180.03,170.48 L1180.35,169.51 L1180.68,167.97 L1181.00,168.43 L1181.29,170.40 L1181.57,168.66 L1181.86,170.00 L1182.15,170.69 L1182.44,169.43 L1182.72,169.58 L1183.00,169.35 L1183.28,168.36 L1183.54,170.44 L1183.80,168.99 L1184.05,170.60 L1184.30,168.67 L1184.54,170.74 L1184.77,170.65 L1185.00,170.26 L1185.22,169.89 L1185.44,169.09 L1185.66,171.47 L1185.88,170.31 L1186.10,171.55 L1186.35,170.01 L1186.59,170.11 L1186.83,170.60 L1187.07,173.15 L1187.31,171.30 L1187.55,174.07 M900.90,336.39 L901.20,335.88 L901.50,334.51 L901.81,334.14 L902.11,332.18 L902.42,331.91 L902.74,332.10 L903.05,329.72 L903.38,329.83 L903.71,328.35 L904.05,327.50 L904.35,326.27 L904.64,325.60 L904.94,326.81 L905.25,325.92 L905.56,325.24 L905.87,324.64 L906.19,324.34 L906.52,322.18 L906.85,322.49 L907.20,321.79 L907.49,321.54 L907.78,321.86 L908.07,321.12 L908.37,321.15 L908.68,319.09 L908.99,319.81 L909.31,319.54 L909.63,319.39 L909.96,318.87 L910.30,319.06 L910.59,317.84 L910.89,318.94 L911.19,317.76 L911.50,318.04 L911.82,318.54 L912.13,318.07 L912.45,317.22 L912.77,317.02 L913.09,317.17 L913.40,317.75 L913.71,318.49 L914.03,318.30 L914.34,317.33 L914.66,317.37 L914.97,318.26 L915.29,317.26 L915.60,317.59 L915.92,316.89 L916.23,317.35 L916.55,318.18 L916.92,318.65 L917.30,318.68 L917.68,318.39 L918.05,319.80 L918.43,319.39 L918.81,318.72 L919.18,318.82 L919.55,320.93 L919.93,321.26 L920.30,321.44 L920.75,321.21 L921.19,321.05 L921.64,321.06 L922.08,321.87 L922.52,322.29 L922.96,324.20 L923.40,324.64 L923.84,324.93 L924.27,324.19 L924.70,324.88 L925.14,325.54 L925.58,327.38 L926.02,326.38 L926.45,328.20 L926.88,328.55 L927.31,328.86 L927.74,330.25 L928.17,329.42 L928.61,330.50 L929.05,330.32 L929.48,330.71 L929.91,331.10 L930.34,332.18 L930.77,332.30 L931.20,332.68 L931.64,335.04 L932.08,334.13 L932.52,335.82 L932.96,335.92 L933.40,336.46 L933.83,336.77 L934.26,337.83 L934.70,338.14 L935.13,338.28 L935.57,338.42 L936.01,339.13 L936.45,339.62 L936.90,339.70 L937.35,340.01 L937.80,339.71 L938.23,341.44 L938.66,341.06 L939.09,340.56 L939.53,341.08 L939.97,342.81 L940.41,341.88 L940.86,342.44 L941.30,343.31 L941.75,343.95 L942.20,343.16 L942.63,343.53 L943.06,343.85 L943.49,343.30 L943.92,345.24 L944.35,343.75 L944.79,345.85 L945.23,344.45 L945.67,344.65 L946.11,346.22 L946.55,346.35 L946.98,345.32 L947.40,346.10 L947.83,346.08 L948.26,346.69 L948.69,345.74 L949.12,347.12 L949.56,347.56 L950.00,347.07 L950.45,347.57 L950.90,347.67 L951.38,346.62 L951.87,347.60 L952.37,347.60 L952.87,347.13 L953.37,346.18 L953.88,347.21 L954.39,347.79 L954.89,346.59 L955.40,347.28 L955.90,347.79 L955.90,347.20 L956.27,346.06 L956.60,347.24" stroke-width="1.6"/>
<path d="M661.50,660.00 L663.70,680.00 L666.00,695.00 L668.00,707.00 L669.80,702.00 L671.40,698.60 L673.00,702.00 L674.30,704.50 L676.00,697.00 L676.90,688.00 L678.50,675.00 M861.60,508.00 L863.40,518.00 L864.60,526.00 L865.70,529.60 L867.30,527.00 L869.10,522.50 L870.50,525.50 M1170.00,170.50 L1171.30,167.00 L1172.60,170.00 M1181.00,168.00 L1182.30,165.20 L1183.60,167.50 M1184.50,170.00 L1186.30,173.50 L1188.00,176.70 L1190.30,176.20 L1191.00,174.60 M956.00,345.00 L958.10,343.60 L959.00,345.50 M1053.50,345.80 L1054.70,344.00 L1058.60,342.90 L1060.00,345.00 L1061.30,351.00 L1063.00,359.50 L1064.60,355.00 L1066.20,351.00 L1067.70,348.40 L1069.50,350.00"/>
<path d="M364,784.75H457M1191,174.75H1253.5"/>
</g>
<g stroke="#009e73" stroke-width="4">
<path d="M63.55,910V48" stroke-width="4.1"/>
<path d="M66.05,48V542.5" stroke-width="4.1"/>
<path d="M67,48H73.25L72.25,160L71.3,340V433H67Z" fill="#009e73" stroke="none"/>
<path d="M71,48H79V73H71Z" fill="#009e73" stroke="none"/>
<path d="M77.00,44.00 L77.03,47.07 L77.06,50.11 L77.08,53.12 L77.11,56.12 L77.13,59.14 L77.16,62.19 L77.19,65.28 L77.22,68.43 L77.26,71.67 L77.30,75.00 L77.35,79.17 L77.41,83.51 L77.48,87.97 L77.55,92.53 L77.62,97.14 L77.70,101.79 L77.77,106.43 L77.85,111.04 L77.92,115.57 L78.00,120.00 L78.07,124.02 L78.15,127.89 L78.23,131.67 L78.31,135.40 L78.39,139.15 L78.46,142.96 L78.54,146.90 L78.61,151.01 L78.68,155.36 L78.75,160.00 L78.84,167.54 L78.92,175.70 L78.99,184.35 L79.05,193.41 L79.11,202.75 L79.17,212.27 L79.23,221.87 L79.28,231.42 L79.34,240.84 L79.40,250.00 L79.46,258.94 L79.52,267.79 L79.59,276.59 L79.65,285.38 L79.71,294.19 L79.77,303.07 L79.83,312.05 L79.89,321.17 L79.94,330.48 L80.00,340.00 L80.06,351.30 L80.12,362.90 L80.18,374.73 L80.24,386.76 L80.29,398.92 L80.35,411.17 L80.41,423.46 L80.47,435.72 L80.53,447.92 L80.60,460.00 L80.67,472.14 L80.74,484.51 L80.81,497.01 L80.89,509.54 L80.96,522.01 L81.04,534.31 L81.12,546.36 L81.21,558.06 L81.30,569.30 L81.40,580.00 L81.48,587.83 L81.56,595.45 L81.64,602.86 L81.72,610.09 L81.81,617.14 L81.90,624.01 L81.99,630.72 L82.09,637.29 L82.19,643.71 L82.30,650.00 L82.39,655.01 L82.47,660.01 L82.55,664.97 L82.64,669.84 L82.73,674.58 L82.82,679.16 L82.93,683.54 L83.04,687.66 L83.16,691.49 L83.30,695.00 L83.39,697.02 L83.48,699.11 L83.57,701.22 L83.67,703.27 L83.77,705.19 L83.88,706.92 L83.98,708.38 L84.09,709.51 L84.19,710.24 L84.30,710.50 L84.41,710.23 L84.52,709.48 L84.63,708.31 L84.74,706.81 L84.85,705.05 L84.96,703.11 L85.08,701.05 L85.19,698.97 L85.29,696.92 L85.40,695.00 L85.55,692.16 L85.69,689.06 L85.82,685.75 L85.95,682.29 L86.08,678.76 L86.21,675.20 L86.34,671.68 L86.49,668.27 L86.64,665.02 L86.80,662.00 L86.93,659.76 L87.07,657.56 L87.20,655.40 L87.34,653.28 L87.49,651.22 L87.64,649.23 L87.79,647.30 L87.95,645.45 L88.12,643.68 L88.30,642.00 L88.42,640.87 L88.53,639.73 L88.64,638.60 L88.76,637.51 L88.87,636.46 L89.00,635.48 L89.15,634.57 L89.31,633.77 L89.49,633.07 L89.70,632.50 L89.80,632.29 L89.90,632.09 L90.02,631.90 L90.13,631.72 L90.25,631.56 L90.36,631.43 L90.48,631.32 L90.59,631.24 L90.70,631.20 L90.80,631.20 L90.95,631.28 L91.08,631.47 L91.21,631.73 L91.34,632.08 L91.46,632.48 L91.57,632.94 L91.68,633.43 L91.79,633.94 L91.90,634.47 L92.00,635.00 L92.21,636.18 L92.39,637.54 L92.56,639.06 L92.71,640.71 L92.85,642.46 L92.98,644.30 L93.11,646.20 L93.24,648.13 L93.37,650.07 L93.50,652.00 L93.67,654.51 L93.83,657.12 L93.98,659.82 L94.12,662.60 L94.26,665.43 L94.40,668.32 L94.55,671.23 L94.69,674.16 L94.84,677.08 L95.00,680.00 L95.18,683.19 L95.37,686.49 L95.56,689.85 L95.76,693.25 L95.95,696.65 L96.15,700.02 L96.35,703.33 L96.54,706.53 L96.72,709.60 L96.90,712.50 L97.03,714.58 L97.14,716.58 L97.25,718.50 L97.36,720.37 L97.47,722.20 L97.58,724.00 L97.70,725.79 L97.82,727.58 L97.95,729.40 L98.10,731.25 L98.26,733.14 L98.42,735.06 L98.58,737.00 L98.75,738.94 L98.93,740.87 L99.12,742.78 L99.32,744.66 L99.53,746.50 L99.76,748.28 L100.00,750.00 L100.21,751.36 L100.43,752.68 L100.66,753.97 L100.90,755.23 L101.15,756.46 L101.40,757.68 L101.67,758.89 L101.94,760.09 L102.22,761.29 L102.50,762.50 L102.78,763.66 L103.06,764.81 L103.35,765.97 L103.64,767.11 L103.94,768.25 L104.25,769.37 L104.57,770.49 L104.90,771.59 L105.25,772.68 L105.60,773.75 L105.94,774.74 L106.29,775.73 L106.65,776.71 L107.02,777.69 L107.40,778.65 L107.79,779.59 L108.18,780.51 L108.58,781.40 L108.99,782.27 L109.40,783.10 L109.75,783.77 L110.10,784.42 L110.45,785.05 L110.81,785.67 L111.18,786.27 L111.55,786.85 L111.92,787.41 L112.31,787.96 L112.70,788.49 L113.10,789.00 L113.46,789.42 L113.82,789.82 L114.20,790.19 L114.57,790.56 L114.96,790.91 L115.34,791.25 L115.73,791.60 L116.12,791.95 L116.51,792.32 L116.90,792.70 L117.32,793.14 L117.74,793.60 L118.16,794.08 L118.58,794.56 L119.01,795.04 L119.43,795.52 L119.87,795.99 L120.32,796.43 L120.78,796.86 L121.25,797.25 L121.72,797.62 L122.21,798.00 L122.71,798.39 L123.22,798.76 L123.74,799.11 L124.26,799.43 L124.77,799.70 L125.28,799.91 L125.77,800.05 L126.25,800.10 L126.65,800.08 L127.04,800.01 L127.42,799.89 L127.80,799.73 L128.18,799.53 L128.55,799.29 L128.92,799.03 L129.28,798.74 L129.64,798.43 L130.00,798.10 L130.53,797.54 L131.05,796.87 L131.55,796.12 L132.05,795.30 L132.55,794.43 L133.04,793.53 L133.52,792.62 L134.01,791.72 L134.50,790.84 L135.00,790.00 L135.49,789.19 L135.98,788.37 L136.46,787.55 L136.94,786.73 L137.43,785.91 L137.92,785.09 L138.41,784.28 L138.93,783.48 L139.45,782.68 L140.00,781.90 L140.57,781.11 L141.16,780.32 L141.77,779.54 L142.38,778.75 L143.01,777.98 L143.65,777.22 L144.29,776.48 L144.94,775.76 L145.59,775.07 L146.25,774.40 L146.85,773.82 L147.45,773.25 L148.05,772.70 L148.66,772.17 L149.27,771.66 L149.89,771.16 L150.53,770.67 L151.17,770.20 L151.83,769.74 L152.50,769.30 L153.20,768.86 L153.90,768.43 L154.62,768.00 L155.34,767.60 L156.08,767.21 L156.83,766.84 L157.60,766.49 L158.38,766.16 L159.18,765.87 L160.00,765.60 L160.92,765.34 L161.86,765.12 L162.83,764.92 L163.81,764.76 L164.81,764.62 L165.83,764.51 L166.86,764.42 L167.90,764.36 L168.95,764.32 L170.00,764.30 L171.19,764.32 L172.39,764.38 L173.61,764.49 L174.84,764.63 L176.09,764.79 L177.35,764.97 L178.62,765.16 L179.91,765.35 L181.20,765.53 L182.50,765.70 L183.94,765.88 L185.39,766.07 L186.85,766.28 L188.32,766.49 L189.81,766.70 L191.31,766.91 L192.83,767.11 L194.37,767.29 L195.92,767.46 L197.50,767.60 L199.27,767.73 L201.06,767.85 L202.87,767.94 L204.69,768.03 L206.54,768.09 L208.42,768.15 L210.33,768.20 L212.26,768.23 L214.24,768.27 L216.25,768.30 L218.71,768.32 L221.27,768.33 L223.91,768.32 L226.60,768.30 L229.32,768.26 L232.04,768.23 L234.74,768.19 L237.40,768.15 L240.00,768.12 L242.50,768.10 L244.62,768.09 L246.69,768.08 L248.73,768.06 L250.73,768.05 L252.72,768.05 L254.69,768.04 L256.65,768.03 L258.62,768.02 L260.60,768.01 L262.60,768.00 L262.81,768.01 L263.03,768.00 L263.26,768.00 L263.48,767.99 L263.70,767.98 L263.92,767.98 L264.13,767.99 L264.33,768.01 L264.52,768.05 L264.70,768.10 L264.83,768.16 L264.96,768.23 L265.07,768.32 L265.18,768.41 L265.29,768.50 L265.39,768.60 L265.49,768.71 L265.59,768.81 L265.69,768.91 L265.80,769.00 L265.85,769.35 L265.90,769.68 L265.96,770.02 L266.01,770.35 L266.07,770.68 L266.12,771.02 L266.17,771.37 L266.22,771.73 L266.26,772.11 L266.30,772.50 L266.34,773.06 L266.38,773.63 L266.41,774.21 L266.43,774.82 L266.44,775.45 L266.46,776.10 L266.48,776.78 L266.50,777.49 L266.52,778.23 L266.55,779.00 L266.61,780.29 L266.66,781.67 L266.73,783.15 L266.80,784.69 L266.87,786.30 L266.95,787.95 L267.03,789.63 L267.11,791.32 L267.20,793.02 L267.30,794.70 L267.42,796.60 L267.55,798.51 L267.69,800.43 L267.84,802.37 L267.99,804.34 L268.14,806.36 L268.29,808.42 L268.44,810.55 L268.58,812.73 L268.70,815.00 L268.85,818.09 L268.99,821.29 L269.11,824.61 L269.23,828.02 L269.34,831.52 L269.45,835.10 L269.55,838.74 L269.65,842.45 L269.75,846.20 L269.85,850.00 L269.97,854.77 L270.08,859.90 L270.19,865.27 L270.29,870.76 L270.39,876.27 L270.48,881.68 L270.57,886.87 L270.65,891.73 L270.73,896.14 L270.80,900.00 L270.84,901.86 L270.87,903.56 L270.90,905.14 L270.93,906.63 L270.96,908.05 L270.99,909.42 L271.01,910.78 L271.04,912.14 L271.07,913.54 L271.10,915.00 M297.20,915.00 L297.28,914.10 L297.36,913.22 L297.43,912.37 L297.51,911.51 L297.59,910.65 L297.66,909.77 L297.74,908.86 L297.83,907.90 L297.91,906.88 L298.00,905.80 L298.14,903.94 L298.29,901.88 L298.45,899.67 L298.61,897.35 L298.77,894.95 L298.95,892.53 L299.12,890.11 L299.31,887.74 L299.50,885.45 L299.70,883.30 L299.88,881.54 L300.07,879.82 L300.26,878.13 L300.46,876.48 L300.67,874.84 L300.88,873.22 L301.08,871.60 L301.29,869.98 L301.50,868.35 L301.70,866.70 L301.90,865.03 L302.08,863.36 L302.27,861.69 L302.45,860.02 L302.64,858.35 L302.83,856.68 L303.03,855.01 L303.24,853.34 L303.46,851.67 L303.70,850.00 L303.96,848.33 L304.24,846.65 L304.53,844.98 L304.83,843.31 L305.14,841.64 L305.45,839.97 L305.77,838.30 L306.08,836.64 L306.40,834.97 L306.70,833.30 L307.00,831.64 L307.30,829.98 L307.60,828.32 L307.90,826.66 L308.19,825.00 L308.49,823.34 L308.79,821.68 L309.09,820.02 L309.40,818.36 L309.70,816.70 L310.01,815.03 L310.32,813.36 L310.63,811.69 L310.95,810.02 L311.26,808.35 L311.58,806.68 L311.89,805.01 L312.20,803.34 L312.50,801.67 L312.80,800.00 L313.09,798.32 L313.38,796.62 L313.66,794.90 L313.93,793.18 L314.21,791.47 L314.48,789.77 L314.76,788.10 L315.03,786.46 L315.31,784.85 L315.60,783.30 L315.84,782.02 L316.07,780.75 L316.30,779.50 L316.53,778.27 L316.76,777.06 L317.00,775.88 L317.25,774.72 L317.51,773.59 L317.80,772.48 L318.10,771.40 L318.37,770.50 L318.65,769.61 L318.94,768.72 L319.23,767.86 L319.54,767.01 L319.86,766.19 L320.19,765.41 L320.53,764.66 L320.88,763.96 L321.25,763.30 L321.53,762.84 L321.82,762.39 L322.11,761.96 L322.40,761.55 L322.71,761.17 L323.02,760.80 L323.34,760.46 L323.68,760.15 L324.03,759.86 L324.40,759.60 L324.76,759.38 L325.14,759.18 L325.53,759.00 L325.94,758.83 L326.36,758.69 L326.77,758.58 L327.19,758.49 L327.60,758.43 L328.01,758.40 L328.40,758.40 L328.76,758.43 L329.12,758.50 L329.48,758.59 L329.83,758.72 L330.18,758.86 L330.53,759.02 L330.88,759.20 L331.22,759.39 L331.56,759.59 L331.90,759.80 L332.28,760.05 L332.66,760.33 L333.03,760.64 L333.39,760.96 L333.76,761.30 L334.12,761.65 L334.48,762.01 L334.85,762.37 L335.22,762.74 L335.60,763.10 L336.03,763.51 L336.46,763.94 L336.90,764.37 L337.34,764.82 L337.78,765.27 L338.22,765.72 L338.67,766.17 L339.11,766.62 L339.56,767.07 L340.00,767.50 L340.44,767.92 L340.87,768.34 L341.31,768.76 L341.75,769.18 L342.19,769.60 L342.63,770.01 L343.07,770.42 L343.51,770.82 L343.95,771.21 L344.40,771.60 L344.83,771.96 L345.25,772.32 L345.68,772.66 L346.11,773.00 L346.54,773.34 L346.97,773.68 L347.41,774.01 L347.85,774.34 L348.30,774.67 L348.75,775.00 L349.23,775.35 L349.72,775.69 L350.21,776.04 L350.71,776.38 L351.22,776.72 L351.72,777.06 L352.23,777.40 L352.74,777.73 L353.25,778.07 L353.75,778.40 L354.25,778.73 L354.77,779.07 L355.29,779.42 L355.81,779.76 L356.33,780.10 L356.85,780.43 L357.35,780.75 L357.84,781.06 L358.31,781.34 L358.75,781.60 L359.06,781.77 L359.36,781.94 L359.65,782.10 L359.93,782.25 L360.21,782.40 L360.48,782.54 L360.75,782.67 L361.00,782.79 L361.26,782.90 L361.50,783.00 L361.67,783.07 L361.84,783.13 L362.01,783.18 L362.17,783.23 L362.32,783.28 L362.48,783.32 L362.63,783.36 L362.79,783.41 L362.94,783.45 L363.10,783.50 L458.00,783.50 L458.20,783.54 L458.40,783.57 L458.59,783.61 L458.79,783.64 L458.99,783.68 L459.19,783.71 L459.39,783.75 L459.59,783.80 L459.79,783.85 L460.00,783.90 L460.24,783.97 L460.50,784.03 L460.76,784.10 L461.02,784.17 L461.29,784.24 L461.55,784.33 L461.80,784.42 L462.05,784.53 L462.28,784.66 L462.50,784.80 L462.71,784.96 L462.91,785.14 L463.10,785.33 L463.29,785.54 L463.46,785.76 L463.63,785.99 L463.79,786.23 L463.93,786.48 L464.07,786.73 L464.20,787.00 L464.34,787.33 L464.45,787.68 L464.55,788.05 L464.63,788.43 L464.70,788.82 L464.76,789.23 L464.82,789.65 L464.87,790.09 L464.93,790.54 L465.00,791.00 L465.10,791.68 L465.18,792.38 L465.27,793.11 L465.35,793.87 L465.42,794.66 L465.50,795.47 L465.57,796.31 L465.65,797.18 L465.72,798.08 L465.80,799.00 L465.91,800.35 L466.03,801.77 L466.15,803.26 L466.27,804.80 L466.39,806.39 L466.51,808.02 L466.62,809.67 L466.72,811.35 L466.82,813.02 L466.90,814.70 L466.98,816.64 L467.05,818.64 L467.10,820.69 L467.14,822.78 L467.18,824.88 L467.21,826.98 L467.25,829.05 L467.29,831.09 L467.34,833.08 L467.40,835.00 L467.46,836.55 L467.52,837.99 L467.58,839.37 L467.65,840.71 L467.71,842.05 L467.78,843.42 L467.86,844.87 L467.93,846.43 L468.02,848.12 L468.10,850.00 L468.29,854.37 L468.51,859.69 L468.76,865.69 L469.02,872.14 L469.29,878.77 L469.55,885.34 L469.81,891.60 L470.04,897.30 L470.24,902.18 L470.40,906.00 L470.45,907.21 L470.50,908.29 L470.54,909.27 L470.58,910.15 L470.62,910.98 L470.65,911.77 L470.69,912.54 L470.72,913.32 L470.76,914.13 L470.80,915.00 M483.60,915.00 L483.70,913.54 L483.79,912.16 L483.88,910.81 L483.96,909.48 L484.05,908.12 L484.15,906.72 L484.24,905.23 L484.35,903.64 L484.47,901.90 L484.60,900.00 L484.91,895.54 L485.27,890.26 L485.68,884.35 L486.13,877.98 L486.59,871.33 L487.07,864.57 L487.55,857.88 L488.01,851.44 L488.45,845.42 L488.85,840.00 L489.12,836.39 L489.39,832.96 L489.65,829.66 L489.90,826.47 L490.15,823.37 L490.40,820.31 L490.65,817.28 L490.89,814.23 L491.14,811.15 L491.40,808.00 L491.66,804.81 L491.92,801.59 L492.18,798.37 L492.44,795.15 L492.70,791.93 L492.96,788.73 L493.22,785.55 L493.48,782.40 L493.74,779.30 L494.00,776.25 L494.23,773.55 L494.45,770.92 L494.67,768.36 L494.89,765.82 L495.11,763.30 L495.34,760.76 L495.56,758.19 L495.80,755.55 L496.04,752.83 L496.30,750.00 L496.63,746.37 L496.97,742.59 L497.33,738.68 L497.70,734.69 L498.07,730.64 L498.45,726.56 L498.84,722.48 L499.22,718.44 L499.61,714.47 L500.00,710.60 L500.36,706.92 L500.73,703.08 L501.11,699.15 L501.49,695.22 L501.86,691.37 L502.24,687.67 L502.62,684.20 L503.00,681.05 L503.38,678.29 L503.75,676.00 L503.90,675.20 L504.05,674.50 L504.20,673.87 L504.35,673.30 L504.49,672.77 L504.64,672.26 L504.80,671.75 L504.96,671.21 L505.12,670.64 L505.30,670.00 L505.54,669.11 L505.80,668.18 L506.07,667.22 L506.35,666.24 L506.64,665.23 L506.94,664.20 L507.23,663.16 L507.52,662.11 L507.81,661.06 L508.10,660.00 L508.41,658.81 L508.73,657.59 L509.04,656.35 L509.36,655.10 L509.67,653.83 L509.99,652.56 L510.30,651.29 L510.62,650.02 L510.93,648.75 L511.25,647.50 L511.56,646.26 L511.88,645.00 L512.19,643.73 L512.50,642.46 L512.81,641.20 L513.13,639.95 L513.44,638.72 L513.76,637.51 L514.08,636.34 L514.40,635.20 L514.67,634.26 L514.93,633.32 L515.20,632.39 L515.46,631.48 L515.72,630.59 L516.00,629.72 L516.28,628.88 L516.57,628.08 L516.88,627.31 L517.20,626.60 L517.45,626.09 L517.71,625.58 L517.97,625.09 L518.24,624.62 L518.52,624.17 L518.80,623.74 L519.09,623.35 L519.38,622.99 L519.69,622.67 L520.00,622.40 L520.23,622.23 L520.47,622.08 L520.72,621.94 L520.97,621.82 L521.23,621.72 L521.48,621.64 L521.74,621.58 L521.99,621.54 L522.25,621.51 L522.50,621.50 L522.75,621.51 L523.00,621.55 L523.25,621.60 L523.50,621.67 L523.75,621.76 L524.00,621.87 L524.25,621.99 L524.50,622.12 L524.75,622.25 L525.00,622.40 L525.31,622.60 L525.62,622.82 L525.92,623.07 L526.23,623.34 L526.53,623.62 L526.84,623.92 L527.15,624.23 L527.46,624.54 L527.78,624.87 L528.10,625.20 L528.52,625.63 L528.95,626.09 L529.38,626.57 L529.83,627.06 L530.28,627.57 L530.72,628.09 L531.17,628.62 L531.62,629.15 L532.06,629.68 L532.50,630.20 L532.95,630.74 L533.39,631.29 L533.83,631.85 L534.27,632.41 L534.71,632.98 L535.15,633.54 L535.59,634.11 L536.02,634.68 L536.46,635.24 L536.90,635.80 L537.33,636.36 L537.77,636.92 L538.20,637.48 L538.63,638.04 L539.06,638.60 L539.49,639.16 L539.93,639.71 L540.36,640.25 L540.80,640.78 L541.25,641.30 L541.67,641.78 L542.10,642.25 L542.53,642.72 L542.96,643.18 L543.40,643.63 L543.83,644.08 L544.27,644.52 L544.71,644.95 L545.15,645.38 L545.60,645.80 L546.03,646.20 L546.46,646.59 L546.90,646.97 L547.34,647.35 L547.78,647.72 L548.22,648.09 L548.66,648.45 L549.11,648.80 L549.55,649.15 L550.00,649.50 L550.43,649.83 L550.87,650.16 L551.30,650.49 L551.74,650.81 L552.18,651.12 L552.62,651.43 L553.06,651.74 L553.51,652.03 L553.95,652.32 L554.40,652.60 L554.83,652.86 L555.27,653.12 L555.71,653.38 L556.16,653.63 L556.60,653.87 L557.04,654.11 L557.48,654.33 L557.91,654.53 L558.34,654.73 L558.75,654.90 L559.08,655.03 L559.40,655.14 L559.72,655.23 L560.04,655.32 L560.35,655.40 L560.66,655.48 L560.97,655.56 L561.28,655.63 L561.59,655.71 L561.90,655.80 L562.29,655.78 L562.63,655.76 L562.96,655.74 L563.28,655.72 L563.62,655.70 L563.98,655.68 L564.38,655.66 L564.84,655.64 L565.37,655.62 L566.00,655.60 L570.26,655.53 L576.48,655.49 L584.33,655.47 L593.46,655.46 L603.51,655.46 L614.14,655.47 L625.00,655.49 L635.75,655.50 L646.03,655.50 L655.50,655.50 L655.80,655.48 L656.10,655.47 L656.41,655.46 L656.71,655.45 L657.01,655.43 L657.31,655.42 L657.61,655.40 L657.91,655.37 L658.21,655.34 L658.50,655.30 L658.78,655.24 L659.07,655.16 L659.36,655.06 L659.64,654.95 L659.93,654.84 L660.20,654.74 L660.47,654.66 L660.73,654.61 L660.97,654.58 L661.20,654.60 L661.37,654.64 L661.53,654.70 L661.69,654.77 L661.84,654.85 L661.98,654.95 L662.12,655.06 L662.25,655.18 L662.37,655.31 L662.49,655.45 L662.60,655.60 L662.73,655.82 L662.84,656.06 L662.94,656.33 L663.01,656.61 L663.08,656.91 L663.14,657.24 L663.20,657.58 L663.26,657.95 L663.33,658.34 L663.40,658.75 L663.56,659.66 L663.72,660.69 L663.87,661.84 L664.03,663.08 L664.19,664.39 L664.35,665.75 L664.51,667.13 L664.67,668.53 L664.84,669.91 L665.00,671.25 L665.19,672.76 L665.37,674.31 L665.57,675.90 L665.76,677.51 L665.95,679.13 L666.14,680.75 L666.34,682.35 L666.53,683.91 L666.71,685.44 L666.90,686.90 L667.05,688.11 L667.18,689.32 L667.31,690.53 L667.44,691.72 L667.56,692.88 L667.70,694.01 L667.85,695.10 L668.01,696.13 L668.19,697.10 L668.40,698.00 L668.54,698.58 L668.68,699.16 L668.82,699.73 L668.96,700.28 L669.11,700.80 L669.28,701.29 L669.46,701.72 L669.68,702.09 L669.92,702.39 L670.20,702.60 L670.46,702.70 L670.76,702.75 L671.07,702.73 L671.40,702.68 L671.75,702.59 L672.10,702.48 L672.46,702.36 L672.82,702.23 L673.16,702.11 L673.50,702.00 L673.85,701.91 L674.21,701.82 L674.58,701.74 L674.94,701.65 L675.31,701.55 L675.66,701.43 L676.00,701.29 L676.33,701.10 L676.63,700.88 L676.90,700.60 L677.26,700.06 L677.56,699.39 L677.81,698.62 L678.01,697.76 L678.18,696.84 L678.32,695.86 L678.46,694.87 L678.59,693.86 L678.73,692.86 L678.90,691.90 L679.10,690.81 L679.30,689.72 L679.49,688.63 L679.67,687.52 L679.85,686.38 L680.02,685.21 L680.19,684.00 L680.36,682.73 L680.53,681.40 L680.70,680.00 L680.95,677.68 L681.20,675.12 L681.43,672.38 L681.66,669.50 L681.89,666.54 L682.12,663.56 L682.35,660.62 L682.59,657.75 L682.84,655.03 L683.10,652.50 L683.31,650.67 L683.52,648.95 L683.74,647.32 L683.95,645.74 L684.17,644.18 L684.40,642.61 L684.63,641.00 L684.88,639.31 L685.13,637.52 L685.40,635.60 L685.82,632.58 L686.28,629.34 L686.77,625.92 L687.29,622.35 L687.81,618.68 L688.34,614.94 L688.87,611.17 L689.37,607.39 L689.85,603.66 L690.30,600.00 L690.72,596.26 L691.12,592.46 L691.50,588.62 L691.87,584.75 L692.23,580.90 L692.57,577.07 L692.92,573.29 L693.27,569.59 L693.63,565.98 L694.00,562.50 L694.32,559.66 L694.64,556.85 L694.97,554.08 L695.30,551.36 L695.62,548.69 L695.95,546.07 L696.27,543.51 L696.59,541.02 L696.90,538.60 L697.20,536.25 L697.42,534.45 L697.63,532.68 L697.82,530.96 L698.01,529.27 L698.20,527.62 L698.40,526.01 L698.61,524.45 L698.85,522.92 L699.11,521.44 L699.40,520.00 L699.66,518.90 L699.94,517.84 L700.23,516.82 L700.53,515.84 L700.85,514.87 L701.17,513.91 L701.50,512.96 L701.83,511.99 L702.17,511.01 L702.50,510.00 L702.86,508.90 L703.22,507.77 L703.60,506.64 L703.98,505.49 L704.36,504.34 L704.75,503.20 L705.13,502.06 L705.51,500.94 L705.88,499.83 L706.25,498.75 L706.57,497.78 L706.89,496.82 L707.21,495.86 L707.52,494.91 L707.83,493.97 L708.15,493.05 L708.46,492.14 L708.77,491.24 L709.08,490.36 L709.40,489.50 L709.67,488.76 L709.94,488.03 L710.21,487.30 L710.48,486.58 L710.75,485.88 L711.02,485.19 L711.30,484.53 L711.59,483.89 L711.89,483.28 L712.20,482.70 L712.46,482.26 L712.71,481.83 L712.97,481.41 L713.24,481.00 L713.51,480.61 L713.79,480.24 L714.08,479.89 L714.37,479.57 L714.68,479.27 L715.00,479.00 L715.28,478.79 L715.58,478.60 L715.88,478.42 L716.19,478.26 L716.50,478.12 L716.82,477.99 L717.14,477.89 L717.46,477.80 L717.78,477.74 L718.10,477.70 L718.41,477.68 L718.72,477.69 L719.04,477.72 L719.35,477.77 L719.67,477.84 L719.98,477.93 L720.30,478.03 L720.62,478.14 L720.93,478.27 L721.25,478.40 L721.63,478.58 L722.00,478.78 L722.38,479.00 L722.75,479.24 L723.13,479.50 L723.50,479.78 L723.88,480.07 L724.25,480.37 L724.63,480.68 L725.00,481.00 L725.44,481.40 L725.89,481.82 L726.33,482.26 L726.78,482.73 L727.22,483.20 L727.66,483.69 L728.10,484.19 L728.54,484.69 L728.97,485.20 L729.40,485.70 L729.84,486.23 L730.28,486.78 L730.72,487.34 L731.15,487.91 L731.58,488.48 L732.01,489.05 L732.44,489.61 L732.87,490.17 L733.31,490.72 L733.75,491.25 L734.17,491.74 L734.60,492.23 L735.03,492.72 L735.46,493.20 L735.89,493.67 L736.33,494.14 L736.76,494.59 L737.20,495.04 L737.65,495.48 L738.10,495.90 L738.53,496.29 L738.96,496.66 L739.39,497.03 L739.83,497.39 L740.27,497.74 L740.71,498.08 L741.16,498.42 L741.60,498.75 L742.05,499.08 L742.50,499.40 L742.93,499.71 L743.37,500.00 L743.81,500.30 L744.24,500.59 L744.68,500.87 L745.13,501.15 L745.57,501.42 L746.01,501.68 L746.46,501.94 L746.90,502.20 L747.33,502.44 L747.76,502.69 L748.19,502.93 L748.62,503.16 L749.06,503.39 L749.49,503.61 L749.93,503.83 L750.37,504.03 L750.81,504.22 L751.25,504.40 L751.68,504.56 L752.11,504.72 L752.54,504.87 L752.97,505.01 L753.41,505.14 L753.84,505.26 L754.28,505.36 L754.72,505.46 L755.16,505.54 L755.60,505.60 L756.04,505.64 L756.47,505.66 L756.91,505.66 L757.35,505.65 L757.79,505.63 L758.24,505.60 L758.68,505.57 L759.12,505.54 L759.56,505.52 L760.00,505.50 L853.75,505.50 L854.07,505.48 L854.40,505.47 L854.72,505.46 L855.04,505.45 L855.37,505.44 L855.69,505.42 L856.02,505.41 L856.34,505.38 L856.67,505.35 L857.00,505.30 L857.37,505.23 L857.75,505.12 L858.14,505.00 L858.54,504.87 L858.94,504.74 L859.32,504.61 L859.69,504.51 L860.03,504.43 L860.33,504.39 L860.60,504.40 L860.73,504.42 L860.85,504.46 L860.96,504.50 L861.07,504.55 L861.16,504.61 L861.25,504.67 L861.34,504.75 L861.43,504.82 L861.51,504.91 L861.60,505.00 L861.71,505.13 L861.81,505.27 L861.91,505.43 L862.00,505.60 L862.09,505.78 L862.17,505.97 L862.25,506.16 L862.33,506.37 L862.42,506.58 L862.50,506.80 L862.62,507.13 L862.73,507.47 L862.84,507.83 L862.94,508.21 L863.05,508.61 L863.15,509.02 L863.26,509.45 L863.37,509.89 L863.48,510.34 L863.60,510.80 L863.78,511.49 L863.97,512.23 L864.17,513.02 L864.37,513.83 L864.58,514.66 L864.79,515.51 L865.00,516.35 L865.20,517.18 L865.41,517.98 L865.60,518.75 L865.76,519.43 L865.92,520.12 L866.08,520.82 L866.23,521.52 L866.39,522.20 L866.54,522.86 L866.70,523.48 L866.86,524.05 L867.03,524.56 L867.20,525.00 L867.29,525.21 L867.38,525.41 L867.46,525.61 L867.54,525.79 L867.63,525.96 L867.72,526.12 L867.82,526.25 L867.93,526.36 L868.06,526.44 L868.20,526.50 L868.42,526.52 L868.67,526.48 L868.94,526.40 L869.24,526.27 L869.54,526.10 L869.86,525.92 L870.18,525.71 L870.50,525.50 L870.81,525.30 L871.10,525.10 L871.43,524.88 L871.77,524.65 L872.11,524.40 L872.45,524.15 L872.79,523.88 L873.12,523.60 L873.44,523.30 L873.75,522.98 L874.04,522.65 L874.30,522.30 L874.57,521.88 L874.82,521.42 L875.05,520.94 L875.27,520.44 L875.46,519.92 L875.65,519.39 L875.82,518.85 L875.98,518.30 L876.14,517.75 L876.30,517.20 L876.46,516.60 L876.61,515.99 L876.74,515.37 L876.86,514.74 L876.97,514.10 L877.08,513.45 L877.18,512.80 L877.29,512.14 L877.39,511.47 L877.50,510.80 L877.62,510.04 L877.75,509.28 L877.87,508.49 L877.99,507.70 L878.11,506.90 L878.23,506.10 L878.34,505.30 L878.45,504.50 L878.55,503.69 L878.65,502.90 L878.74,502.13 L878.82,501.38 L878.90,500.64 L878.97,499.90 L879.04,499.16 L879.11,498.40 L879.17,497.62 L879.25,496.80 L879.32,495.93 L879.40,495.00 L879.53,493.45 L879.66,491.76 L879.79,489.95 L879.92,488.06 L880.06,486.10 L880.21,484.11 L880.36,482.10 L880.53,480.11 L880.71,478.15 L880.90,476.25 L881.11,474.41 L881.33,472.58 L881.57,470.75 L881.82,468.92 L882.07,467.10 L882.34,465.28 L882.60,463.45 L882.87,461.64 L883.14,459.82 L883.40,458.00 L883.66,456.21 L883.93,454.43 L884.20,452.67 L884.47,450.92 L884.74,449.16 L885.02,447.38 L885.29,445.59 L885.56,443.77 L885.83,441.91 L886.10,440.00 L886.41,437.71 L886.71,435.31 L887.02,432.84 L887.33,430.32 L887.63,427.79 L887.93,425.27 L888.22,422.81 L888.51,420.42 L888.78,418.14 L889.05,416.00 L889.24,414.50 L889.42,413.08 L889.60,411.73 L889.77,410.41 L889.93,409.13 L890.10,407.85 L890.27,406.57 L890.44,405.26 L890.62,403.91 L890.80,402.50 L891.02,400.82 L891.23,399.11 L891.45,397.38 L891.68,395.62 L891.90,393.83 L892.14,392.02 L892.38,390.18 L892.62,388.32 L892.88,386.42 L893.15,384.50 L893.48,382.17 L893.82,379.72 L894.18,377.18 L894.55,374.60 L894.92,372.00 L895.31,369.42 L895.70,366.90 L896.10,364.46 L896.50,362.15 L896.90,360.00 L897.20,358.51 L897.50,357.09 L897.80,355.72 L898.10,354.39 L898.41,353.10 L898.72,351.83 L899.04,350.59 L899.35,349.36 L899.68,348.13 L900.00,346.90 L900.30,345.78 L900.60,344.68 L900.90,343.58 L901.20,342.50 L901.51,341.43 L901.82,340.37 L902.14,339.32 L902.45,338.29 L902.77,337.26 L903.10,336.25 L903.40,335.33 L903.70,334.41 L904.01,333.50 L904.31,332.60 L904.62,331.70 L904.94,330.83 L905.25,329.96 L905.58,329.12 L905.91,328.30 L906.25,327.50 L906.55,326.83 L906.84,326.16 L907.14,325.51 L907.45,324.86 L907.76,324.23 L908.07,323.62 L908.39,323.03 L908.72,322.46 L909.05,321.92 L909.40,321.40 L909.69,320.99 L909.98,320.59 L910.27,320.19 L910.57,319.82 L910.88,319.45 L911.19,319.11 L911.51,318.79 L911.83,318.50 L912.16,318.23 L912.50,318.00 L912.79,317.83 L913.09,317.68 L913.39,317.55 L913.70,317.44 L914.02,317.34 L914.33,317.27 L914.65,317.20 L914.97,317.16 L915.29,317.12 L915.60,317.10 L915.91,317.09 L916.23,317.10 L916.54,317.13 L916.86,317.17 L917.17,317.22 L917.49,317.29 L917.80,317.37 L918.12,317.47 L918.43,317.58 L918.75,317.70 L919.12,317.87 L919.50,318.05 L919.88,318.26 L920.25,318.50 L920.63,318.74 L921.01,319.01 L921.38,319.29 L921.75,319.58 L922.13,319.89 L922.50,320.20 L922.95,320.60 L923.39,321.03 L923.84,321.48 L924.28,321.95 L924.72,322.44 L925.16,322.95 L925.60,323.46 L926.04,323.97 L926.47,324.49 L926.90,325.00 L927.34,325.54 L927.78,326.09 L928.22,326.65 L928.65,327.22 L929.08,327.79 L929.51,328.36 L929.94,328.93 L930.37,329.50 L930.81,330.05 L931.25,330.60 L931.68,331.12 L932.11,331.63 L932.54,332.14 L932.97,332.65 L933.40,333.15 L933.84,333.65 L934.28,334.15 L934.72,334.64 L935.16,335.12 L935.60,335.60 L936.03,336.06 L936.46,336.53 L936.90,336.99 L937.33,337.44 L937.77,337.90 L938.21,338.34 L938.65,338.78 L939.10,339.20 L939.55,339.61 L940.00,340.00 L940.43,340.35 L940.86,340.69 L941.29,341.03 L941.73,341.35 L942.17,341.66 L942.61,341.96 L943.06,342.26 L943.50,342.55 L943.95,342.83 L944.40,343.10 L944.83,343.35 L945.26,343.60 L945.69,343.85 L946.12,344.08 L946.55,344.31 L946.99,344.53 L947.43,344.74 L947.87,344.94 L948.31,345.13 L948.75,345.30 L949.18,345.45 L949.60,345.60 L950.03,345.73 L950.46,345.85 L950.89,345.97 L951.32,346.07 L951.76,346.17 L952.20,346.25 L952.65,346.33 L953.10,346.40 L953.58,346.46 L954.07,346.50 L954.57,346.53 L955.07,346.55 L955.57,346.56 L956.08,346.57 L956.59,346.57 L957.09,346.58 L957.60,346.58 L958.10,346.60 L958.47,346.59 L958.80,346.58 L959.11,346.57 L959.41,346.56 L959.73,346.55 L960.07,346.54 L960.45,346.53 L960.89,346.52 L961.40,346.51 L962.00,346.50 L966.29,346.47 L972.64,346.45 L980.68,346.44 L990.05,346.44 L1000.39,346.45 L1011.33,346.46 L1022.52,346.47 L1033.58,346.49 L1044.17,346.50 L1053.90,346.50 L1054.21,346.45 L1054.52,346.41 L1054.84,346.36 L1055.15,346.32 L1055.46,346.27 L1055.77,346.22 L1056.08,346.17 L1056.39,346.12 L1056.70,346.06 L1057.00,346.00 L1057.29,345.92 L1057.59,345.82 L1057.89,345.71 L1058.19,345.59 L1058.48,345.47 L1058.77,345.36 L1059.05,345.28 L1059.31,345.21 L1059.57,345.19 L1059.80,345.20 L1059.97,345.24 L1060.13,345.30 L1060.27,345.38 L1060.42,345.47 L1060.55,345.57 L1060.69,345.69 L1060.82,345.81 L1060.94,345.94 L1061.07,346.07 L1061.20,346.20 L1061.35,346.36 L1061.50,346.53 L1061.64,346.71 L1061.78,346.89 L1061.92,347.09 L1062.06,347.29 L1062.19,347.50 L1062.33,347.73 L1062.46,347.96 L1062.60,348.20 L1062.79,348.57 L1062.98,348.98 L1063.16,349.43 L1063.34,349.89 L1063.52,350.37 L1063.70,350.85 L1063.89,351.32 L1064.08,351.78 L1064.29,352.21 L1064.50,352.60 L1064.68,352.92 L1064.86,353.25 L1065.04,353.58 L1065.23,353.91 L1065.42,354.22 L1065.62,354.50 L1065.82,354.75 L1066.04,354.96 L1066.26,355.11 L1066.50,355.20 L1066.75,355.22 L1067.01,355.19 L1067.29,355.10 L1067.58,354.98 L1067.88,354.82 L1068.17,354.63 L1068.47,354.42 L1068.76,354.20 L1069.04,353.98 L1069.30,353.75 L1069.62,353.45 L1069.93,353.12 L1070.23,352.75 L1070.53,352.36 L1070.82,351.94 L1071.10,351.52 L1071.37,351.08 L1071.63,350.65 L1071.87,350.22 L1072.10,349.80 L1072.30,349.42 L1072.49,349.03 L1072.66,348.65 L1072.82,348.26 L1072.97,347.87 L1073.12,347.48 L1073.26,347.07 L1073.39,346.66 L1073.52,346.24 L1073.65,345.80 L1073.80,345.26 L1073.93,344.70 L1074.05,344.12 L1074.17,343.53 L1074.28,342.93 L1074.39,342.32 L1074.49,341.71 L1074.59,341.10 L1074.69,340.50 L1074.80,339.90 L1074.90,339.33 L1075.00,338.78 L1075.10,338.26 L1075.19,337.73 L1075.29,337.20 L1075.38,336.64 L1075.48,336.06 L1075.58,335.43 L1075.69,334.75 L1075.80,334.00 L1076.05,332.28 L1076.32,330.29 L1076.61,328.07 L1076.92,325.69 L1077.24,323.18 L1077.57,320.60 L1077.91,318.00 L1078.24,315.43 L1078.57,312.95 L1078.90,310.60 L1079.20,308.51 L1079.51,306.49 L1079.81,304.52 L1080.12,302.56 L1080.43,300.60 L1080.74,298.62 L1081.05,296.59 L1081.36,294.49 L1081.68,292.30 L1082.00,290.00 L1082.44,286.68 L1082.88,283.15 L1083.34,279.44 L1083.80,275.61 L1084.26,271.69 L1084.72,267.74 L1085.18,263.80 L1085.63,259.91 L1086.07,256.13 L1086.50,252.50 L1086.88,249.32 L1087.25,246.14 L1087.63,242.97 L1088.00,239.83 L1088.36,236.73 L1088.72,233.70 L1089.08,230.74 L1089.42,227.88 L1089.77,225.12 L1090.10,222.50 L1090.34,220.64 L1090.58,218.83 L1090.80,217.08 L1091.03,215.38 L1091.25,213.73 L1091.47,212.12 L1091.70,210.55 L1091.93,209.00 L1092.16,207.49 L1092.40,206.00 L1092.60,204.81 L1092.80,203.66 L1093.00,202.54 L1093.21,201.44 L1093.42,200.36 L1093.62,199.30 L1093.84,198.23 L1094.05,197.17 L1094.27,196.09 L1094.50,195.00 L1094.73,193.88 L1094.97,192.76 L1095.21,191.65 L1095.45,190.53 L1095.70,189.42 L1095.95,188.29 L1096.21,187.17 L1096.47,186.04 L1096.73,184.90 L1097.00,183.75 L1097.29,182.52 L1097.59,181.28 L1097.89,180.02 L1098.20,178.76 L1098.51,177.49 L1098.82,176.23 L1099.14,174.97 L1099.46,173.71 L1099.78,172.47 L1100.10,171.25 L1100.40,170.09 L1100.70,168.91 L1101.00,167.73 L1101.30,166.56 L1101.61,165.39 L1101.92,164.25 L1102.24,163.13 L1102.56,162.04 L1102.90,161.00 L1103.25,160.00 L1103.54,159.23 L1103.83,158.46 L1104.12,157.71 L1104.42,156.98 L1104.72,156.27 L1105.04,155.59 L1105.36,154.94 L1105.69,154.32 L1106.04,153.74 L1106.40,153.20 L1106.68,152.81 L1106.97,152.44 L1107.27,152.08 L1107.57,151.74 L1107.88,151.42 L1108.19,151.12 L1108.51,150.85 L1108.83,150.60 L1109.16,150.39 L1109.50,150.20 L1109.79,150.07 L1110.09,149.95 L1110.40,149.86 L1110.71,149.79 L1111.03,149.74 L1111.34,149.70 L1111.66,149.68 L1111.98,149.67 L1112.29,149.68 L1112.60,149.70 L1112.92,149.74 L1113.24,149.79 L1113.56,149.87 L1113.88,149.95 L1114.20,150.06 L1114.52,150.18 L1114.83,150.32 L1115.14,150.46 L1115.45,150.63 L1115.75,150.80 L1116.08,151.02 L1116.41,151.26 L1116.72,151.53 L1117.04,151.82 L1117.35,152.12 L1117.65,152.44 L1117.96,152.76 L1118.27,153.09 L1118.58,153.42 L1118.90,153.75 L1119.26,154.13 L1119.62,154.52 L1119.98,154.93 L1120.34,155.34 L1120.70,155.77 L1121.07,156.19 L1121.44,156.61 L1121.82,157.02 L1122.20,157.42 L1122.60,157.80 L1123.01,158.17 L1123.43,158.53 L1123.86,158.89 L1124.29,159.23 L1124.73,159.57 L1125.18,159.91 L1125.63,160.25 L1126.08,160.58 L1126.54,160.91 L1127.00,161.25 L1127.48,161.60 L1127.97,161.95 L1128.47,162.30 L1128.97,162.64 L1129.47,162.99 L1129.98,163.33 L1130.49,163.67 L1130.99,164.02 L1131.50,164.36 L1132.00,164.70 L1132.50,165.04 L1133.01,165.37 L1133.52,165.69 L1134.03,166.02 L1134.54,166.34 L1135.05,166.68 L1135.55,167.01 L1136.04,167.36 L1136.53,167.72 L1137.00,168.10 L1137.47,168.50 L1137.92,168.92 L1138.37,169.35 L1138.81,169.79 L1139.24,170.24 L1139.68,170.69 L1140.10,171.15 L1140.53,171.60 L1140.96,172.06 L1141.40,172.50 L1141.84,172.94 L1142.28,173.37 L1142.73,173.81 L1143.17,174.24 L1143.61,174.68 L1144.05,175.11 L1144.49,175.55 L1144.92,176.00 L1145.34,176.44 L1145.75,176.90 L1146.15,177.36 L1146.54,177.84 L1146.92,178.32 L1147.29,178.81 L1147.66,179.31 L1148.03,179.79 L1148.40,180.27 L1148.76,180.73 L1149.13,181.18 L1149.50,181.60 L1149.81,181.94 L1150.12,182.28 L1150.42,182.61 L1150.72,182.94 L1151.03,183.25 L1151.33,183.55 L1151.64,183.84 L1151.95,184.11 L1152.27,184.37 L1152.60,184.60 L1152.90,184.79 L1153.21,184.97 L1153.51,185.13 L1153.83,185.29 L1154.15,185.43 L1154.46,185.56 L1154.79,185.68 L1155.11,185.79 L1155.43,185.90 L1155.75,186.00 L1156.06,186.10 L1156.37,186.20 L1156.69,186.30 L1157.00,186.39 L1157.32,186.47 L1157.63,186.54 L1157.95,186.59 L1158.27,186.62 L1158.58,186.62 L1158.90,186.60 L1159.25,186.54 L1159.59,186.44 L1159.94,186.32 L1160.29,186.16 L1160.64,185.99 L1160.98,185.81 L1161.34,185.61 L1161.69,185.40 L1162.04,185.20 L1162.40,185.00 L1162.82,184.77 L1163.24,184.53 L1163.68,184.28 L1164.11,184.03 L1164.55,183.76 L1164.99,183.48 L1165.41,183.20 L1165.82,182.91 L1166.22,182.61 L1166.60,182.30 L1166.94,182.00 L1167.27,181.70 L1167.59,181.39 L1167.90,181.08 L1168.21,180.75 L1168.50,180.42 L1168.78,180.08 L1169.06,179.73 L1169.33,179.37 L1169.60,179.00 L1169.88,178.58 L1170.14,178.13 L1170.39,177.67 L1170.63,177.19 L1170.86,176.71 L1171.09,176.22 L1171.32,175.74 L1171.54,175.27 L1171.77,174.83 L1172.00,174.40 L1172.19,174.05 L1172.37,173.69 L1172.54,173.34 L1172.72,172.99 L1172.89,172.64 L1173.07,172.32 L1173.25,172.02 L1173.45,171.74 L1173.67,171.50 L1173.90,171.30 L1174.10,171.17 L1174.31,171.06 L1174.53,170.98 L1174.76,170.91 L1174.99,170.86 L1175.23,170.82 L1175.48,170.79 L1175.73,170.76 L1175.99,170.73 L1176.25,170.70 L1176.59,170.67 L1176.95,170.66 L1177.32,170.67 L1177.70,170.69 L1178.09,170.71 L1178.49,170.72 L1178.88,170.73 L1179.26,170.71 L1179.64,170.67 L1180.00,170.60 L1180.35,170.49 L1180.69,170.34 L1181.02,170.16 L1181.36,169.96 L1181.68,169.75 L1182.01,169.54 L1182.33,169.34 L1182.65,169.16 L1182.98,169.01 L1183.30,168.90 L1183.59,168.82 L1183.87,168.75 L1184.16,168.69 L1184.45,168.64 L1184.74,168.60 L1185.02,168.58 L1185.30,168.57 L1185.58,168.59 L1185.84,168.63 L1186.10,168.70 L1186.35,168.80 L1186.60,168.93 L1186.84,169.09 L1187.07,169.28 L1187.30,169.48 L1187.52,169.69 L1187.74,169.92 L1187.96,170.14 L1188.18,170.37 L1188.40,170.60 L1188.65,170.86 L1188.89,171.13 L1189.13,171.41 L1189.37,171.70 L1189.61,172.00 L1189.85,172.30 L1190.09,172.60 L1190.32,172.91 L1190.56,173.21 L1190.80,173.50 L1253.50,173.50"/>
</g>
<g stroke="#9400d3">
<path d="M68.45,48V80" stroke-width="1.9"/>
<path d="M69.5,48V61" stroke-width="1.2" stroke="#c77be8"/>
<path d="M70.95,48V59" stroke-width="2.1"/>
</g>
</g>
<rect x="57.5" y="51.5" width="1196.0" height="855.0" fill="none" stroke="#000" stroke-width="1"/>
<g font-family="'Liberation Sans', sans-serif" font-size="16" fill="#000" style="font-kerning:none">
<text x="40" y="72">4</text>
<text x="40" y="231">2</text>
<text x="40" y="390">0</text>
<text x="35 40" y="548">-2</text>
<text x="35 40" y="707">-4</text>
<text x="35 40" y="866">-6</text>
<text x="237 246 255 264 273" y="929">60000</text>
<text x="486 495 504 513 522" y="929">65000</text>
<text x="735 744 753 762 771" y="929">70000</text>
<text x="984 993 1002 1011 1020" y="929">75000</text>
<text x="1233 1242 1251 1260 1269" y="929">80000</text>
<text x="615 626 634 638 647 651 655 665 674 679 687" y="32">Axial Force</text>
<text x="610.5 614.5 618.5 627.5 632.5 641.5 645.5 649.5 658.5 667.5 675.5 679.5 683.5 687.5 692.5 696.5" y="955">Iterations [ - ]</text>
<text x="0 11 19 23 32 36 40 50 59 64 72 81 85 89 93 105 109" y="0" transform="translate(20,534) rotate(-90)">Axial Force [ N ]</text>
<text x="1103 1114 1122 1126 1135 1139 1143 1153 1162 1167 1175" y="73">Axial Force</text>
<text x="1039 1050 1058 1067 1072 1081 1090 1099 1103 1114 1122 1126 1135 1139 1143 1153 1162 1167 1175" y="90">Average Axial Force</text>
</g>
<path d="M1192.5,66.5H1235.5" stroke="#9400d3" stroke-width="2" fill="none"/>
<path d="M1192.5,83.5H1235.5" stroke="#009e73" stroke-width="4" fill="none"/>
</svg>
</body>
</html>
